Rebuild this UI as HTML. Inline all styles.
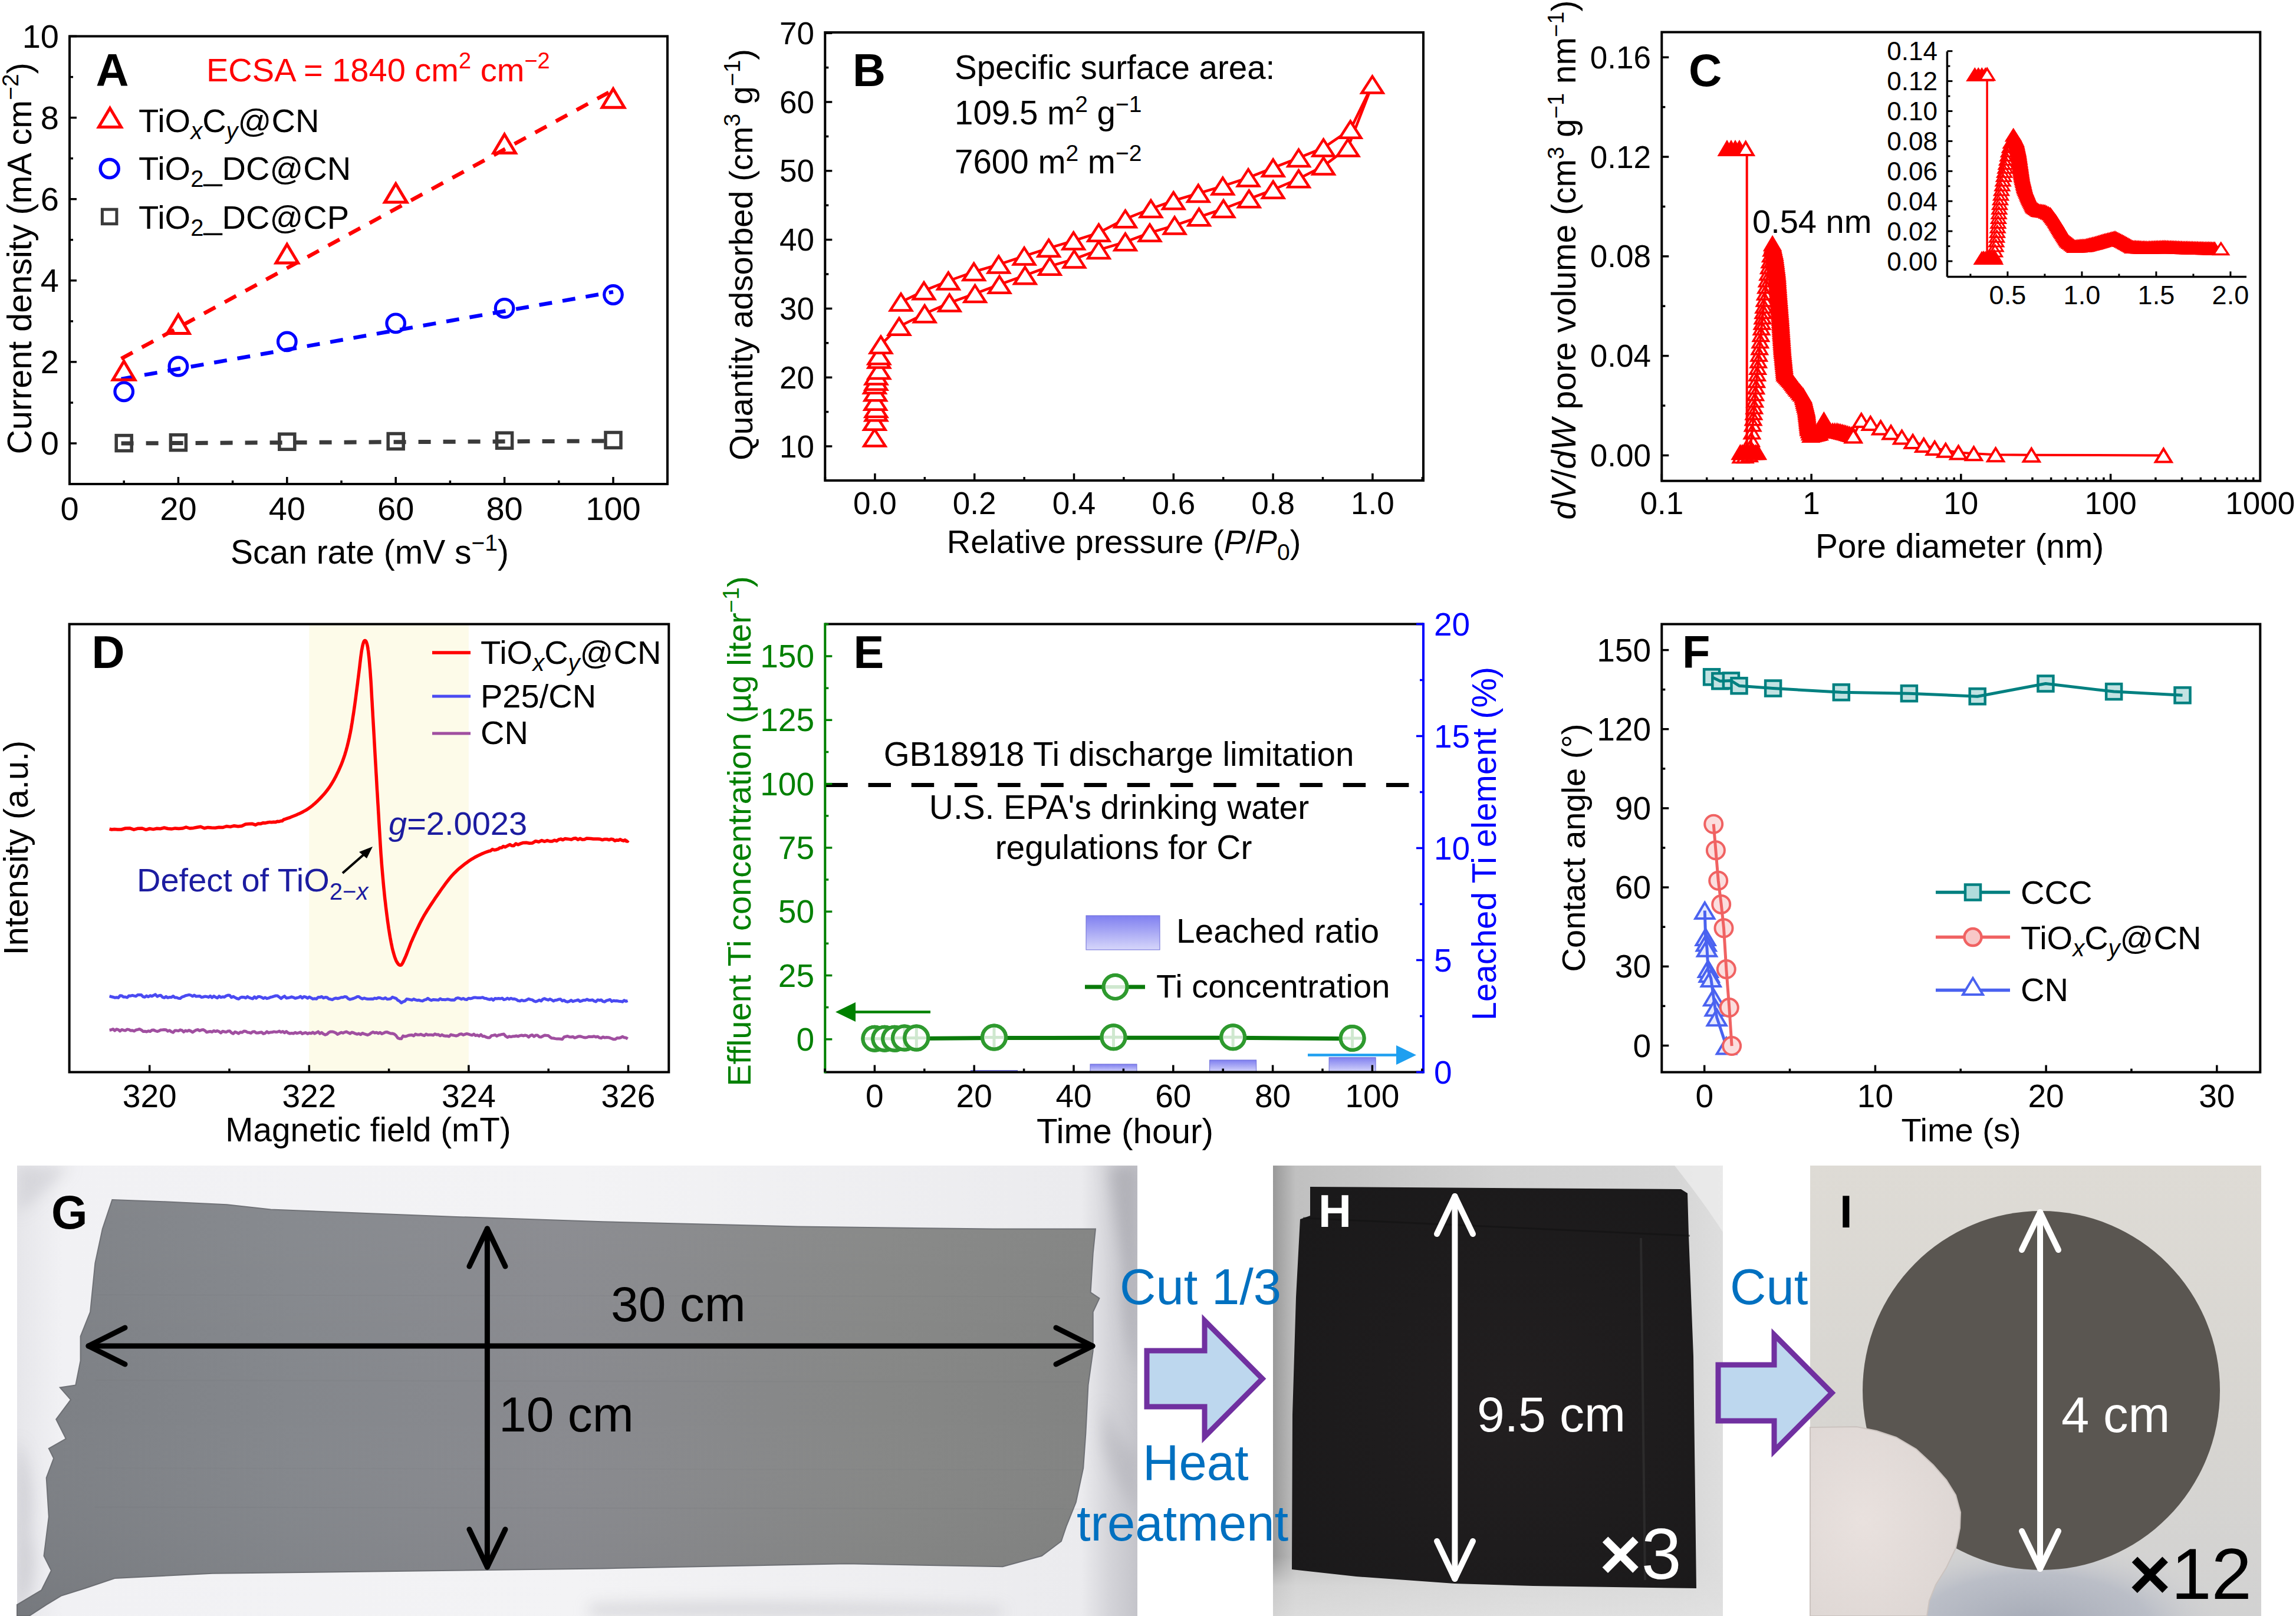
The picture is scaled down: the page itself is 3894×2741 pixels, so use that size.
<!DOCTYPE html><html><head><meta charset="utf-8"><style>html,body{margin:0;padding:0;background:#fff;}svg{display:block;}</style></head><body><svg width="3894" height="2741" viewBox="0 0 3894 2741" font-family="'Liberation Sans', Arial, sans-serif">
<rect width="3894" height="2741" fill="#fff"/>
<rect x="118" y="61.5" width="1014" height="759.5" fill="none" stroke="#000" stroke-width="4"/>
<line x1="118" y1="821" x2="118" y2="809" stroke="#000" stroke-width="3.5"/>
<line x1="302.4" y1="821" x2="302.4" y2="809" stroke="#000" stroke-width="3.5"/>
<line x1="486.8" y1="821" x2="486.8" y2="809" stroke="#000" stroke-width="3.5"/>
<line x1="671.2" y1="821" x2="671.2" y2="809" stroke="#000" stroke-width="3.5"/>
<line x1="855.6" y1="821" x2="855.6" y2="809" stroke="#000" stroke-width="3.5"/>
<line x1="1040" y1="821" x2="1040" y2="809" stroke="#000" stroke-width="3.5"/>
<line x1="210.2" y1="821" x2="210.2" y2="815" stroke="#000" stroke-width="3.5"/>
<line x1="394.6" y1="821" x2="394.6" y2="815" stroke="#000" stroke-width="3.5"/>
<line x1="579" y1="821" x2="579" y2="815" stroke="#000" stroke-width="3.5"/>
<line x1="763.4" y1="821" x2="763.4" y2="815" stroke="#000" stroke-width="3.5"/>
<line x1="947.8" y1="821" x2="947.8" y2="815" stroke="#000" stroke-width="3.5"/>
<line x1="1132.2" y1="821" x2="1132.2" y2="815" stroke="#000" stroke-width="3.5"/>
<line x1="118" y1="752" x2="130" y2="752" stroke="#000" stroke-width="3.5"/>
<line x1="118" y1="613.9" x2="130" y2="613.9" stroke="#000" stroke-width="3.5"/>
<line x1="118" y1="475.8" x2="130" y2="475.8" stroke="#000" stroke-width="3.5"/>
<line x1="118" y1="337.7" x2="130" y2="337.7" stroke="#000" stroke-width="3.5"/>
<line x1="118" y1="199.6" x2="130" y2="199.6" stroke="#000" stroke-width="3.5"/>
<line x1="118" y1="61.5" x2="130" y2="61.5" stroke="#000" stroke-width="3.5"/>
<line x1="118" y1="821" x2="124" y2="821" stroke="#000" stroke-width="3.5"/>
<line x1="118" y1="683" x2="124" y2="683" stroke="#000" stroke-width="3.5"/>
<line x1="118" y1="544.9" x2="124" y2="544.9" stroke="#000" stroke-width="3.5"/>
<line x1="118" y1="406.8" x2="124" y2="406.8" stroke="#000" stroke-width="3.5"/>
<line x1="118" y1="268.7" x2="124" y2="268.7" stroke="#000" stroke-width="3.5"/>
<line x1="118" y1="130.6" x2="124" y2="130.6" stroke="#000" stroke-width="3.5"/>
<text x="118" y="882" font-size="56" text-anchor="middle" fill="#000">0</text>
<text x="302.4" y="882" font-size="56" text-anchor="middle" fill="#000">20</text>
<text x="486.8" y="882" font-size="56" text-anchor="middle" fill="#000">40</text>
<text x="671.2" y="882" font-size="56" text-anchor="middle" fill="#000">60</text>
<text x="855.6" y="882" font-size="56" text-anchor="middle" fill="#000">80</text>
<text x="1040" y="882" font-size="56" text-anchor="middle" fill="#000">100</text>
<text x="100" y="771" font-size="56" text-anchor="end" fill="#000">0</text>
<text x="100" y="632.9" font-size="56" text-anchor="end" fill="#000">2</text>
<text x="100" y="494.8" font-size="56" text-anchor="end" fill="#000">4</text>
<text x="100" y="356.7" font-size="56" text-anchor="end" fill="#000">6</text>
<text x="100" y="218.6" font-size="56" text-anchor="end" fill="#000">8</text>
<text x="100" y="80.5" font-size="56" text-anchor="end" fill="#000">10</text>
<text x="627" y="955.5" font-size="57" text-anchor="middle" fill="#000">Scan rate (mV s<tspan dy="-22" font-size="39">−1</tspan><tspan dy="22">)</tspan></text>
<text x="0" y="0" font-size="57.5" text-anchor="middle" fill="#000" transform="translate(52.5,438.3) rotate(-90)">Current density (mA cm<tspan dy="-22" font-size="39">−2</tspan><tspan dy="22">)</tspan></text>
<text x="162.5" y="145.7" font-size="77.5" text-anchor="start" fill="#000" font-weight="bold">A</text>
<text x="350" y="138" font-size="56" text-anchor="start" fill="#ff0000">ECSA = 1840 cm<tspan dy="-22" font-size="38">2</tspan><tspan dy="22"> cm</tspan><tspan dy="-22" font-size="38">−2</tspan></text>
<polygon points="186.5,183.5 205.5,215.5 167.5,215.5" fill="none" stroke="#ff0000" stroke-width="5" stroke-linejoin="miter"/>
<circle cx="185.7" cy="286" r="15.5" fill="none" stroke="#0000ff" stroke-width="5.5"/>
<rect x="173.4" y="355.2" width="24.5" height="24.5" fill="none" stroke="#3a3a3a" stroke-width="5"/>
<text x="235" y="224" font-size="56" text-anchor="start" fill="#000">TiO<tspan dy="12" font-size="40" font-style="italic">x</tspan><tspan dy="-12">C</tspan><tspan dy="12" font-size="40" font-style="italic">y</tspan><tspan dy="-12">@CN</tspan></text>
<text x="235" y="305" font-size="56" text-anchor="start" fill="#000">TiO<tspan dy="12" font-size="40">2</tspan><tspan dy="-12">_DC@CN</tspan></text>
<text x="235" y="387.5" font-size="56" text-anchor="start" fill="#000">TiO<tspan dy="12" font-size="40">2</tspan><tspan dy="-12">_DC@CP</tspan></text>
<line x1="205.6" y1="608.4" x2="1040" y2="152.6" stroke="#ff0000" stroke-width="6.5" stroke-dasharray="22 18" stroke-linecap="butt"/>
<line x1="205.6" y1="642.9" x2="1040" y2="495.1" stroke="#0000ff" stroke-width="6.5" stroke-dasharray="22 18" stroke-linecap="butt"/>
<line x1="205.6" y1="752" x2="1040" y2="747.9" stroke="#3a3a3a" stroke-width="7" stroke-dasharray="21 21"/>
<polygon points="210.2,612.7 228.9,644.2 191.4,644.2" fill="none" stroke="#ff0000" stroke-width="5" stroke-linejoin="miter"/>
<polygon points="302.4,533.9 321.1,565.4 283.6,565.4" fill="none" stroke="#ff0000" stroke-width="5" stroke-linejoin="miter"/>
<polygon points="486.8,414.5 505.6,446 468.1,446" fill="none" stroke="#ff0000" stroke-width="5" stroke-linejoin="miter"/>
<polygon points="671.2,311.6 690,343.1 652.5,343.1" fill="none" stroke="#ff0000" stroke-width="5" stroke-linejoin="miter"/>
<polygon points="855.6,228 874.4,259.5 836.9,259.5" fill="none" stroke="#ff0000" stroke-width="5" stroke-linejoin="miter"/>
<polygon points="1040,150.7 1058.8,182.2 1021.2,182.2" fill="none" stroke="#ff0000" stroke-width="5" stroke-linejoin="miter"/>
<circle cx="210.2" cy="664.3" r="15.3" fill="none" stroke="#0000ff" stroke-width="5.2"/>
<circle cx="302.4" cy="621.5" r="15.3" fill="none" stroke="#0000ff" stroke-width="5.2"/>
<circle cx="486.8" cy="579.4" r="15.3" fill="none" stroke="#0000ff" stroke-width="5.2"/>
<circle cx="671.2" cy="548.3" r="15.3" fill="none" stroke="#0000ff" stroke-width="5.2"/>
<circle cx="855.6" cy="522.8" r="15.3" fill="none" stroke="#0000ff" stroke-width="5.2"/>
<circle cx="1040" cy="500" r="15.3" fill="none" stroke="#0000ff" stroke-width="5.2"/>
<rect x="197.2" y="738.6" width="26" height="26" fill="none" stroke="#3a3a3a" stroke-width="5.5"/>
<rect x="289.4" y="737.6" width="26" height="26" fill="none" stroke="#3a3a3a" stroke-width="5.5"/>
<rect x="473.8" y="736.2" width="26" height="26" fill="none" stroke="#3a3a3a" stroke-width="5.5"/>
<rect x="658.2" y="735.5" width="26" height="26" fill="none" stroke="#3a3a3a" stroke-width="5.5"/>
<rect x="842.6" y="734.2" width="26" height="26" fill="none" stroke="#3a3a3a" stroke-width="5.5"/>
<rect x="1027" y="733.5" width="26" height="26" fill="none" stroke="#3a3a3a" stroke-width="5.5"/>
<rect x="1399.3" y="55" width="1014.7" height="760" fill="none" stroke="#000" stroke-width="4"/>
<line x1="1483.9" y1="815" x2="1483.9" y2="803" stroke="#000" stroke-width="3.5"/>
<line x1="1652.7" y1="815" x2="1652.7" y2="803" stroke="#000" stroke-width="3.5"/>
<line x1="1821.5" y1="815" x2="1821.5" y2="803" stroke="#000" stroke-width="3.5"/>
<line x1="1990.3" y1="815" x2="1990.3" y2="803" stroke="#000" stroke-width="3.5"/>
<line x1="2159.1" y1="815" x2="2159.1" y2="803" stroke="#000" stroke-width="3.5"/>
<line x1="2327.9" y1="815" x2="2327.9" y2="803" stroke="#000" stroke-width="3.5"/>
<line x1="1399.5" y1="815" x2="1399.5" y2="809" stroke="#000" stroke-width="3.5"/>
<line x1="1568.3" y1="815" x2="1568.3" y2="809" stroke="#000" stroke-width="3.5"/>
<line x1="1737.1" y1="815" x2="1737.1" y2="809" stroke="#000" stroke-width="3.5"/>
<line x1="1905.9" y1="815" x2="1905.9" y2="809" stroke="#000" stroke-width="3.5"/>
<line x1="2074.7" y1="815" x2="2074.7" y2="809" stroke="#000" stroke-width="3.5"/>
<line x1="2243.5" y1="815" x2="2243.5" y2="809" stroke="#000" stroke-width="3.5"/>
<line x1="2412.3" y1="815" x2="2412.3" y2="809" stroke="#000" stroke-width="3.5"/>
<line x1="1399.3" y1="757" x2="1411.3" y2="757" stroke="#000" stroke-width="3.5"/>
<line x1="1399.3" y1="640.2" x2="1411.3" y2="640.2" stroke="#000" stroke-width="3.5"/>
<line x1="1399.3" y1="523.4" x2="1411.3" y2="523.4" stroke="#000" stroke-width="3.5"/>
<line x1="1399.3" y1="406.6" x2="1411.3" y2="406.6" stroke="#000" stroke-width="3.5"/>
<line x1="1399.3" y1="289.8" x2="1411.3" y2="289.8" stroke="#000" stroke-width="3.5"/>
<line x1="1399.3" y1="173" x2="1411.3" y2="173" stroke="#000" stroke-width="3.5"/>
<line x1="1399.3" y1="56.2" x2="1411.3" y2="56.2" stroke="#000" stroke-width="3.5"/>
<line x1="1399.3" y1="698.6" x2="1405.3" y2="698.6" stroke="#000" stroke-width="3.5"/>
<line x1="1399.3" y1="581.8" x2="1405.3" y2="581.8" stroke="#000" stroke-width="3.5"/>
<line x1="1399.3" y1="465" x2="1405.3" y2="465" stroke="#000" stroke-width="3.5"/>
<line x1="1399.3" y1="348.2" x2="1405.3" y2="348.2" stroke="#000" stroke-width="3.5"/>
<line x1="1399.3" y1="231.4" x2="1405.3" y2="231.4" stroke="#000" stroke-width="3.5"/>
<line x1="1399.3" y1="114.6" x2="1405.3" y2="114.6" stroke="#000" stroke-width="3.5"/>
<text x="1483.9" y="872" font-size="53" text-anchor="middle" fill="#000">0.0</text>
<text x="1652.7" y="872" font-size="53" text-anchor="middle" fill="#000">0.2</text>
<text x="1821.5" y="872" font-size="53" text-anchor="middle" fill="#000">0.4</text>
<text x="1990.3" y="872" font-size="53" text-anchor="middle" fill="#000">0.6</text>
<text x="2159.1" y="872" font-size="53" text-anchor="middle" fill="#000">0.8</text>
<text x="2327.9" y="872" font-size="53" text-anchor="middle" fill="#000">1.0</text>
<text x="1381" y="775.5" font-size="53" text-anchor="end" fill="#000">10</text>
<text x="1381" y="658.7" font-size="53" text-anchor="end" fill="#000">20</text>
<text x="1381" y="541.9" font-size="53" text-anchor="end" fill="#000">30</text>
<text x="1381" y="425.1" font-size="53" text-anchor="end" fill="#000">40</text>
<text x="1381" y="308.3" font-size="53" text-anchor="end" fill="#000">50</text>
<text x="1381" y="191.5" font-size="53" text-anchor="end" fill="#000">60</text>
<text x="1381" y="74.7" font-size="53" text-anchor="end" fill="#000">70</text>
<text x="1906" y="938" font-size="56" text-anchor="middle" fill="#000">Relative pressure (<tspan font-style="italic">P</tspan>/<tspan font-style="italic">P</tspan><tspan dy="12" font-size="39">0</tspan><tspan dy="-12">)</tspan></text>
<text x="0" y="0" font-size="56" text-anchor="middle" fill="#000" transform="translate(1276,432) rotate(-90)">Quantity adsorbed (cm<tspan dy="-21" font-size="39">3</tspan><tspan dy="21"> g</tspan><tspan dy="-21" font-size="39">−1</tspan><tspan dy="21">)</tspan></text>
<text x="1446" y="145.7" font-size="77.5" text-anchor="start" fill="#000" font-weight="bold">B</text>
<text x="1619" y="134" font-size="56.5" text-anchor="start" fill="#000">Specific surface area:</text>
<text x="1619" y="211" font-size="56.5" text-anchor="start" fill="#000">109.5 m<tspan dy="-21" font-size="39">2</tspan><tspan dy="21"> g</tspan><tspan dy="-21" font-size="39">−1</tspan></text>
<text x="1619" y="294" font-size="56.5" text-anchor="start" fill="#000">7600 m<tspan dy="-21" font-size="39">2</tspan><tspan dy="21"> m</tspan><tspan dy="-21" font-size="39">−2</tspan></text>
<polyline points="1483.4,742.6 1483.4,714.7 1485.9,699.3 1485.9,693.1 1484.7,680.7 1484.7,665.2 1483.4,652.8 1485.9,646.7 1485.9,637.4 1490.8,628.1 1490.8,609.5 1490.8,603.3 1493.9,584.8 1524.9,553.8 1568.2,532.2 1610.3,513.6 1653.6,498.1 1695,482.7 1738.4,467.2 1780.4,451.7 1821.9,439.4 1863.4,423.9 1908.5,410.3 1950,394.8 1992.1,382.4 2033.5,368.2 2075,354 2118.3,337.3 2159.2,321.8 2202.5,303.2 2244.6,281.6 2286,250.6 2327.5,143.6" fill="none" stroke="#ff0000" stroke-width="4.5" stroke-linejoin="round"/>
<polyline points="2327.5,143.6 2290.3,219.7 2244.6,250.6 2202.5,267.9 2159.2,284.7 2117.1,301.4 2073.8,315.6 2032.3,328 1990.2,340.3 1951.9,354 1908.5,371.3 1863.4,394.8 1820.7,408.4 1778.6,420.8 1737.1,434.4 1693.8,448.6 1651.7,461 1608.4,476.5 1567,493.2 1528,512.4" fill="none" stroke="#ff0000" stroke-width="4.5" stroke-linejoin="round"/>
<polygon points="1483.4,728.6 1501.4,756.6 1465.4,756.6" fill="#fff" stroke="#ff0000" stroke-width="4.5" stroke-linejoin="miter"/>
<polygon points="1483.4,700.7 1501.4,728.7 1465.4,728.7" fill="#fff" stroke="#ff0000" stroke-width="4.5" stroke-linejoin="miter"/>
<polygon points="1485.9,685.3 1503.9,713.3 1467.9,713.3" fill="#fff" stroke="#ff0000" stroke-width="4.5" stroke-linejoin="miter"/>
<polygon points="1485.9,679.1 1503.9,707.1 1467.9,707.1" fill="#fff" stroke="#ff0000" stroke-width="4.5" stroke-linejoin="miter"/>
<polygon points="1484.7,666.7 1502.7,694.7 1466.7,694.7" fill="#fff" stroke="#ff0000" stroke-width="4.5" stroke-linejoin="miter"/>
<polygon points="1484.7,651.2 1502.7,679.2 1466.7,679.2" fill="#fff" stroke="#ff0000" stroke-width="4.5" stroke-linejoin="miter"/>
<polygon points="1483.4,638.8 1501.4,666.8 1465.4,666.8" fill="#fff" stroke="#ff0000" stroke-width="4.5" stroke-linejoin="miter"/>
<polygon points="1485.9,632.7 1503.9,660.7 1467.9,660.7" fill="#fff" stroke="#ff0000" stroke-width="4.5" stroke-linejoin="miter"/>
<polygon points="1485.9,623.4 1503.9,651.4 1467.9,651.4" fill="#fff" stroke="#ff0000" stroke-width="4.5" stroke-linejoin="miter"/>
<polygon points="1490.8,614.1 1508.8,642.1 1472.8,642.1" fill="#fff" stroke="#ff0000" stroke-width="4.5" stroke-linejoin="miter"/>
<polygon points="1490.8,595.5 1508.8,623.5 1472.8,623.5" fill="#fff" stroke="#ff0000" stroke-width="4.5" stroke-linejoin="miter"/>
<polygon points="1490.8,589.3 1508.8,617.3 1472.8,617.3" fill="#fff" stroke="#ff0000" stroke-width="4.5" stroke-linejoin="miter"/>
<polygon points="1493.9,570.8 1511.9,598.8 1475.9,598.8" fill="#fff" stroke="#ff0000" stroke-width="4.5" stroke-linejoin="miter"/>
<polygon points="1524.9,539.8 1542.9,567.8 1506.9,567.8" fill="#fff" stroke="#ff0000" stroke-width="4.5" stroke-linejoin="miter"/>
<polygon points="1568.2,518.2 1586.2,546.2 1550.2,546.2" fill="#fff" stroke="#ff0000" stroke-width="4.5" stroke-linejoin="miter"/>
<polygon points="1610.3,499.6 1628.3,527.6 1592.3,527.6" fill="#fff" stroke="#ff0000" stroke-width="4.5" stroke-linejoin="miter"/>
<polygon points="1653.6,484.1 1671.6,512.1 1635.6,512.1" fill="#fff" stroke="#ff0000" stroke-width="4.5" stroke-linejoin="miter"/>
<polygon points="1695,468.7 1713,496.7 1677,496.7" fill="#fff" stroke="#ff0000" stroke-width="4.5" stroke-linejoin="miter"/>
<polygon points="1738.4,453.2 1756.4,481.2 1720.4,481.2" fill="#fff" stroke="#ff0000" stroke-width="4.5" stroke-linejoin="miter"/>
<polygon points="1780.4,437.7 1798.4,465.7 1762.4,465.7" fill="#fff" stroke="#ff0000" stroke-width="4.5" stroke-linejoin="miter"/>
<polygon points="1821.9,425.4 1839.9,453.4 1803.9,453.4" fill="#fff" stroke="#ff0000" stroke-width="4.5" stroke-linejoin="miter"/>
<polygon points="1863.4,409.9 1881.4,437.9 1845.4,437.9" fill="#fff" stroke="#ff0000" stroke-width="4.5" stroke-linejoin="miter"/>
<polygon points="1908.5,396.3 1926.5,424.3 1890.5,424.3" fill="#fff" stroke="#ff0000" stroke-width="4.5" stroke-linejoin="miter"/>
<polygon points="1950,380.8 1968,408.8 1932,408.8" fill="#fff" stroke="#ff0000" stroke-width="4.5" stroke-linejoin="miter"/>
<polygon points="1992.1,368.4 2010.1,396.4 1974.1,396.4" fill="#fff" stroke="#ff0000" stroke-width="4.5" stroke-linejoin="miter"/>
<polygon points="2033.5,354.2 2051.5,382.2 2015.5,382.2" fill="#fff" stroke="#ff0000" stroke-width="4.5" stroke-linejoin="miter"/>
<polygon points="2075,340 2093,368 2057,368" fill="#fff" stroke="#ff0000" stroke-width="4.5" stroke-linejoin="miter"/>
<polygon points="2118.3,323.3 2136.3,351.3 2100.3,351.3" fill="#fff" stroke="#ff0000" stroke-width="4.5" stroke-linejoin="miter"/>
<polygon points="2159.2,307.8 2177.2,335.8 2141.2,335.8" fill="#fff" stroke="#ff0000" stroke-width="4.5" stroke-linejoin="miter"/>
<polygon points="2202.5,289.2 2220.5,317.2 2184.5,317.2" fill="#fff" stroke="#ff0000" stroke-width="4.5" stroke-linejoin="miter"/>
<polygon points="2244.6,267.6 2262.6,295.6 2226.6,295.6" fill="#fff" stroke="#ff0000" stroke-width="4.5" stroke-linejoin="miter"/>
<polygon points="2286,236.6 2304,264.6 2268,264.6" fill="#fff" stroke="#ff0000" stroke-width="4.5" stroke-linejoin="miter"/>
<polygon points="2327.5,129.6 2345.5,157.6 2309.5,157.6" fill="#fff" stroke="#ff0000" stroke-width="4.5" stroke-linejoin="miter"/>
<polygon points="2290.3,205.7 2308.3,233.7 2272.3,233.7" fill="#fff" stroke="#ff0000" stroke-width="4.5" stroke-linejoin="miter"/>
<polygon points="2244.6,236.6 2262.6,264.6 2226.6,264.6" fill="#fff" stroke="#ff0000" stroke-width="4.5" stroke-linejoin="miter"/>
<polygon points="2202.5,253.9 2220.5,281.9 2184.5,281.9" fill="#fff" stroke="#ff0000" stroke-width="4.5" stroke-linejoin="miter"/>
<polygon points="2159.2,270.7 2177.2,298.7 2141.2,298.7" fill="#fff" stroke="#ff0000" stroke-width="4.5" stroke-linejoin="miter"/>
<polygon points="2117.1,287.4 2135.1,315.4 2099.1,315.4" fill="#fff" stroke="#ff0000" stroke-width="4.5" stroke-linejoin="miter"/>
<polygon points="2073.8,301.6 2091.8,329.6 2055.8,329.6" fill="#fff" stroke="#ff0000" stroke-width="4.5" stroke-linejoin="miter"/>
<polygon points="2032.3,314 2050.3,342 2014.3,342" fill="#fff" stroke="#ff0000" stroke-width="4.5" stroke-linejoin="miter"/>
<polygon points="1990.2,326.3 2008.2,354.3 1972.2,354.3" fill="#fff" stroke="#ff0000" stroke-width="4.5" stroke-linejoin="miter"/>
<polygon points="1951.9,340 1969.9,368 1933.9,368" fill="#fff" stroke="#ff0000" stroke-width="4.5" stroke-linejoin="miter"/>
<polygon points="1908.5,357.3 1926.5,385.3 1890.5,385.3" fill="#fff" stroke="#ff0000" stroke-width="4.5" stroke-linejoin="miter"/>
<polygon points="1863.4,380.8 1881.4,408.8 1845.4,408.8" fill="#fff" stroke="#ff0000" stroke-width="4.5" stroke-linejoin="miter"/>
<polygon points="1820.7,394.4 1838.7,422.4 1802.7,422.4" fill="#fff" stroke="#ff0000" stroke-width="4.5" stroke-linejoin="miter"/>
<polygon points="1778.6,406.8 1796.6,434.8 1760.6,434.8" fill="#fff" stroke="#ff0000" stroke-width="4.5" stroke-linejoin="miter"/>
<polygon points="1737.1,420.4 1755.1,448.4 1719.1,448.4" fill="#fff" stroke="#ff0000" stroke-width="4.5" stroke-linejoin="miter"/>
<polygon points="1693.8,434.6 1711.8,462.6 1675.8,462.6" fill="#fff" stroke="#ff0000" stroke-width="4.5" stroke-linejoin="miter"/>
<polygon points="1651.7,447 1669.7,475 1633.7,475" fill="#fff" stroke="#ff0000" stroke-width="4.5" stroke-linejoin="miter"/>
<polygon points="1608.4,462.5 1626.4,490.5 1590.4,490.5" fill="#fff" stroke="#ff0000" stroke-width="4.5" stroke-linejoin="miter"/>
<polygon points="1567,479.2 1585,507.2 1549,507.2" fill="#fff" stroke="#ff0000" stroke-width="4.5" stroke-linejoin="miter"/>
<polygon points="1528,498.4 1546,526.4 1510,526.4" fill="#fff" stroke="#ff0000" stroke-width="4.5" stroke-linejoin="miter"/>
<rect x="2818.3" y="54.5" width="1015" height="761.2" fill="none" stroke="#000" stroke-width="4"/>
<line x1="2818.3" y1="815.7" x2="2818.3" y2="803.7" stroke="#000" stroke-width="3.5"/>
<line x1="2894.7" y1="815.7" x2="2894.7" y2="809.7" stroke="#000" stroke-width="3.5"/>
<line x1="2939.4" y1="815.7" x2="2939.4" y2="809.7" stroke="#000" stroke-width="3.5"/>
<line x1="2971.1" y1="815.7" x2="2971.1" y2="809.7" stroke="#000" stroke-width="3.5"/>
<line x1="2995.7" y1="815.7" x2="2995.7" y2="809.7" stroke="#000" stroke-width="3.5"/>
<line x1="3015.8" y1="815.7" x2="3015.8" y2="809.7" stroke="#000" stroke-width="3.5"/>
<line x1="3032.7" y1="815.7" x2="3032.7" y2="809.7" stroke="#000" stroke-width="3.5"/>
<line x1="3047.5" y1="815.7" x2="3047.5" y2="809.7" stroke="#000" stroke-width="3.5"/>
<line x1="3060.4" y1="815.7" x2="3060.4" y2="809.7" stroke="#000" stroke-width="3.5"/>
<line x1="3072.1" y1="815.7" x2="3072.1" y2="803.7" stroke="#000" stroke-width="3.5"/>
<line x1="3148.4" y1="815.7" x2="3148.4" y2="809.7" stroke="#000" stroke-width="3.5"/>
<line x1="3193.1" y1="815.7" x2="3193.1" y2="809.7" stroke="#000" stroke-width="3.5"/>
<line x1="3224.8" y1="815.7" x2="3224.8" y2="809.7" stroke="#000" stroke-width="3.5"/>
<line x1="3249.4" y1="815.7" x2="3249.4" y2="809.7" stroke="#000" stroke-width="3.5"/>
<line x1="3269.5" y1="815.7" x2="3269.5" y2="809.7" stroke="#000" stroke-width="3.5"/>
<line x1="3286.5" y1="815.7" x2="3286.5" y2="809.7" stroke="#000" stroke-width="3.5"/>
<line x1="3301.2" y1="815.7" x2="3301.2" y2="809.7" stroke="#000" stroke-width="3.5"/>
<line x1="3314.2" y1="815.7" x2="3314.2" y2="809.7" stroke="#000" stroke-width="3.5"/>
<line x1="3325.8" y1="815.7" x2="3325.8" y2="803.7" stroke="#000" stroke-width="3.5"/>
<line x1="3402.2" y1="815.7" x2="3402.2" y2="809.7" stroke="#000" stroke-width="3.5"/>
<line x1="3446.9" y1="815.7" x2="3446.9" y2="809.7" stroke="#000" stroke-width="3.5"/>
<line x1="3478.6" y1="815.7" x2="3478.6" y2="809.7" stroke="#000" stroke-width="3.5"/>
<line x1="3503.2" y1="815.7" x2="3503.2" y2="809.7" stroke="#000" stroke-width="3.5"/>
<line x1="3523.3" y1="815.7" x2="3523.3" y2="809.7" stroke="#000" stroke-width="3.5"/>
<line x1="3540.2" y1="815.7" x2="3540.2" y2="809.7" stroke="#000" stroke-width="3.5"/>
<line x1="3555" y1="815.7" x2="3555" y2="809.7" stroke="#000" stroke-width="3.5"/>
<line x1="3567.9" y1="815.7" x2="3567.9" y2="809.7" stroke="#000" stroke-width="3.5"/>
<line x1="3579.6" y1="815.7" x2="3579.6" y2="803.7" stroke="#000" stroke-width="3.5"/>
<line x1="3655.9" y1="815.7" x2="3655.9" y2="809.7" stroke="#000" stroke-width="3.5"/>
<line x1="3700.6" y1="815.7" x2="3700.6" y2="809.7" stroke="#000" stroke-width="3.5"/>
<line x1="3732.3" y1="815.7" x2="3732.3" y2="809.7" stroke="#000" stroke-width="3.5"/>
<line x1="3756.9" y1="815.7" x2="3756.9" y2="809.7" stroke="#000" stroke-width="3.5"/>
<line x1="3777" y1="815.7" x2="3777" y2="809.7" stroke="#000" stroke-width="3.5"/>
<line x1="3794" y1="815.7" x2="3794" y2="809.7" stroke="#000" stroke-width="3.5"/>
<line x1="3808.7" y1="815.7" x2="3808.7" y2="809.7" stroke="#000" stroke-width="3.5"/>
<line x1="3821.7" y1="815.7" x2="3821.7" y2="809.7" stroke="#000" stroke-width="3.5"/>
<line x1="2818.3" y1="772.4" x2="2830.3" y2="772.4" stroke="#000" stroke-width="3.5"/>
<line x1="2818.3" y1="603.6" x2="2830.3" y2="603.6" stroke="#000" stroke-width="3.5"/>
<line x1="2818.3" y1="434.8" x2="2830.3" y2="434.8" stroke="#000" stroke-width="3.5"/>
<line x1="2818.3" y1="266" x2="2830.3" y2="266" stroke="#000" stroke-width="3.5"/>
<line x1="2818.3" y1="97.2" x2="2830.3" y2="97.2" stroke="#000" stroke-width="3.5"/>
<line x1="2818.3" y1="688" x2="2824.3" y2="688" stroke="#000" stroke-width="3.5"/>
<line x1="2818.3" y1="519.2" x2="2824.3" y2="519.2" stroke="#000" stroke-width="3.5"/>
<line x1="2818.3" y1="350.4" x2="2824.3" y2="350.4" stroke="#000" stroke-width="3.5"/>
<line x1="2818.3" y1="181.6" x2="2824.3" y2="181.6" stroke="#000" stroke-width="3.5"/>
<text x="2818.3" y="872" font-size="53" text-anchor="middle" fill="#000">0.1</text>
<text x="3072.1" y="872" font-size="53" text-anchor="middle" fill="#000">1</text>
<text x="3325.8" y="872" font-size="53" text-anchor="middle" fill="#000">10</text>
<text x="3579.6" y="872" font-size="53" text-anchor="middle" fill="#000">100</text>
<text x="3833.3" y="872" font-size="53" text-anchor="middle" fill="#000">1000</text>
<text x="2800" y="790.9" font-size="53" text-anchor="end" fill="#000">0.00</text>
<text x="2800" y="622.1" font-size="53" text-anchor="end" fill="#000">0.04</text>
<text x="2800" y="453.3" font-size="53" text-anchor="end" fill="#000">0.08</text>
<text x="2800" y="284.5" font-size="53" text-anchor="end" fill="#000">0.12</text>
<text x="2800" y="115.7" font-size="53" text-anchor="end" fill="#000">0.16</text>
<text x="3323.5" y="946" font-size="56.8" text-anchor="middle" fill="#000">Pore diameter (nm)</text>
<text x="0" y="0" font-size="57" text-anchor="middle" fill="#000" transform="translate(2672,441) rotate(-90)"><tspan font-style="italic">dV</tspan>/<tspan font-style="italic">dW</tspan> pore volume (cm<tspan dy="-20" font-size="38">3</tspan><tspan dy="20"> g</tspan><tspan dy="-20" font-size="38">−1</tspan><tspan dy="20"> nm</tspan><tspan dy="-20" font-size="38">−1</tspan><tspan dy="20">)</tspan></text>
<text x="2864" y="146.3" font-size="78" text-anchor="start" fill="#000" font-weight="bold">C</text>
<text x="2972" y="395" font-size="56" text-anchor="start" fill="#000">0.54 nm</text>
<line x1="2962.7" y1="252" x2="2962.7" y2="772.4" stroke="#ff0000" stroke-width="4"/>
<polyline points="2952.3,773.5 2959.7,773.5 2967.1,771.6 2970.1,745.7 2972.7,719.7 2975.3,690 2978.3,656.6 2981.2,623.2 2984.2,589.8 2987.5,556.3 2991.2,519.2 2995,485.8 2999.8,452.4 3004.2,422.7 3006.1,413.4 3006.1,413.4 3009.8,430.1 3013.5,459.8 3016.1,497 3019.1,534.1 3022.8,589.8 3027.3,634.3 3037.6,645.4 3048.8,660.3 3058.1,671.4 3063.6,693.7 3067.3,727.1 3071.1,738.2 3085.9,734.5 3093.3,712.2 3100.7,730.8 3115.6,730.8 3130.4,734.5 3143.4,738.2 3143.2,739.6 3156.8,713 3172.3,718 3189.6,725.4 3207,733.4 3225.5,741.5 3244.1,748.9 3262.7,755.1 3281.2,760 3299.8,763.8 3321.5,767.5 3347.5,769.3 3384.6,771.2 3445.3,771.8 3669.3,772.4" fill="none" stroke="#ff0000" stroke-width="4" stroke-linejoin="round"/>
<polygon points="2929,241 2942,263 2916,263" fill="#ff0000" stroke="#ff0000" stroke-width="4" stroke-linejoin="miter"/>
<polygon points="2936,241 2949,263 2923,263" fill="#ff0000" stroke="#ff0000" stroke-width="4" stroke-linejoin="miter"/>
<polygon points="2943,241 2956,263 2930,263" fill="#ff0000" stroke="#ff0000" stroke-width="4" stroke-linejoin="miter"/>
<polygon points="2950,241 2963,263 2937,263" fill="#ff0000" stroke="#ff0000" stroke-width="4" stroke-linejoin="miter"/>
<polygon points="2960.7,241 2973.7,263 2947.7,263" fill="#fff" stroke="#ff0000" stroke-width="4" stroke-linejoin="miter"/>
<polygon points="2952.3,762.5 2965.3,784.5 2939.3,784.5" fill="none" stroke="#ff0000" stroke-width="3.5" stroke-linejoin="miter"/>
<polygon points="2959.7,762.5 2972.7,784.5 2946.7,784.5" fill="none" stroke="#ff0000" stroke-width="3.5" stroke-linejoin="miter"/>
<polygon points="2967.1,760.6 2980.1,782.6 2954.1,782.6" fill="none" stroke="#ff0000" stroke-width="3.5" stroke-linejoin="miter"/>
<polygon points="2968.6,747.6 2981.6,769.6 2955.6,769.6" fill="none" stroke="#ff0000" stroke-width="3.5" stroke-linejoin="miter"/>
<polygon points="2970.1,734.7 2983.1,756.7 2957.1,756.7" fill="none" stroke="#ff0000" stroke-width="3.5" stroke-linejoin="miter"/>
<polygon points="2971.4,721.7 2984.4,743.7 2958.4,743.7" fill="none" stroke="#ff0000" stroke-width="3.5" stroke-linejoin="miter"/>
<polygon points="2972.7,708.7 2985.7,730.7 2959.7,730.7" fill="none" stroke="#ff0000" stroke-width="3.5" stroke-linejoin="miter"/>
<polygon points="2973.6,698.8 2986.6,720.8 2960.6,720.8" fill="none" stroke="#ff0000" stroke-width="3.5" stroke-linejoin="miter"/>
<polygon points="2974.4,688.9 2987.4,710.9 2961.4,710.9" fill="none" stroke="#ff0000" stroke-width="3.5" stroke-linejoin="miter"/>
<polygon points="2975.3,679 2988.3,701 2962.3,701" fill="none" stroke="#ff0000" stroke-width="3.5" stroke-linejoin="miter"/>
<polygon points="2976.3,667.8 2989.3,689.8 2963.3,689.8" fill="none" stroke="#ff0000" stroke-width="3.5" stroke-linejoin="miter"/>
<polygon points="2977.3,656.7 2990.3,678.7 2964.3,678.7" fill="none" stroke="#ff0000" stroke-width="3.5" stroke-linejoin="miter"/>
<polygon points="2978.3,645.6 2991.3,667.6 2965.3,667.6" fill="none" stroke="#ff0000" stroke-width="3.5" stroke-linejoin="miter"/>
<polygon points="2979.2,634.4 2992.2,656.4 2966.2,656.4" fill="none" stroke="#ff0000" stroke-width="3.5" stroke-linejoin="miter"/>
<polygon points="2980.2,623.3 2993.2,645.3 2967.2,645.3" fill="none" stroke="#ff0000" stroke-width="3.5" stroke-linejoin="miter"/>
<polygon points="2981.2,612.2 2994.2,634.2 2968.2,634.2" fill="none" stroke="#ff0000" stroke-width="3.5" stroke-linejoin="miter"/>
<polygon points="2982.2,601 2995.2,623 2969.2,623" fill="none" stroke="#ff0000" stroke-width="3.5" stroke-linejoin="miter"/>
<polygon points="2983.2,589.9 2996.2,611.9 2970.2,611.9" fill="none" stroke="#ff0000" stroke-width="3.5" stroke-linejoin="miter"/>
<polygon points="2984.2,578.8 2997.2,600.8 2971.2,600.8" fill="none" stroke="#ff0000" stroke-width="3.5" stroke-linejoin="miter"/>
<polygon points="2985.3,567.6 2998.3,589.6 2972.3,589.6" fill="none" stroke="#ff0000" stroke-width="3.5" stroke-linejoin="miter"/>
<polygon points="2986.4,556.5 2999.4,578.5 2973.4,578.5" fill="none" stroke="#ff0000" stroke-width="3.5" stroke-linejoin="miter"/>
<polygon points="2987.5,545.3 3000.5,567.3 2974.5,567.3" fill="none" stroke="#ff0000" stroke-width="3.5" stroke-linejoin="miter"/>
<polygon points="2988.5,536.1 3001.5,558.1 2975.5,558.1" fill="none" stroke="#ff0000" stroke-width="3.5" stroke-linejoin="miter"/>
<polygon points="2989.4,526.8 3002.4,548.8 2976.4,548.8" fill="none" stroke="#ff0000" stroke-width="3.5" stroke-linejoin="miter"/>
<polygon points="2990.3,517.5 3003.3,539.5 2977.3,539.5" fill="none" stroke="#ff0000" stroke-width="3.5" stroke-linejoin="miter"/>
<polygon points="2991.2,508.2 3004.2,530.2 2978.2,530.2" fill="none" stroke="#ff0000" stroke-width="3.5" stroke-linejoin="miter"/>
<polygon points="2992.5,497.1 3005.5,519.1 2979.5,519.1" fill="none" stroke="#ff0000" stroke-width="3.5" stroke-linejoin="miter"/>
<polygon points="2993.7,486 3006.7,508 2980.7,508" fill="none" stroke="#ff0000" stroke-width="3.5" stroke-linejoin="miter"/>
<polygon points="2995,474.8 3008,496.8 2982,496.8" fill="none" stroke="#ff0000" stroke-width="3.5" stroke-linejoin="miter"/>
<polygon points="2996.6,463.7 3009.6,485.7 2983.6,485.7" fill="none" stroke="#ff0000" stroke-width="3.5" stroke-linejoin="miter"/>
<polygon points="2998.2,452.5 3011.2,474.5 2985.2,474.5" fill="none" stroke="#ff0000" stroke-width="3.5" stroke-linejoin="miter"/>
<polygon points="2999.8,441.4 3012.8,463.4 2986.8,463.4" fill="none" stroke="#ff0000" stroke-width="3.5" stroke-linejoin="miter"/>
<polygon points="3001.3,431.5 3014.3,453.5 2988.3,453.5" fill="none" stroke="#ff0000" stroke-width="3.5" stroke-linejoin="miter"/>
<polygon points="3002.8,421.6 3015.8,443.6 2989.8,443.6" fill="none" stroke="#ff0000" stroke-width="3.5" stroke-linejoin="miter"/>
<polygon points="3004.2,411.7 3017.2,433.7 2991.2,433.7" fill="none" stroke="#ff0000" stroke-width="3.5" stroke-linejoin="miter"/>
<polygon points="3006.1,402.4 3019.1,424.4 2993.1,424.4" fill="none" stroke="#ff0000" stroke-width="3.5" stroke-linejoin="miter"/>
<polygon points="2951.4,756.5 2964.4,778.5 2938.4,778.5" fill="#ff0000" stroke="#ff0000" stroke-width="3.5" stroke-linejoin="miter"/>
<polygon points="2954.7,756.5 2967.7,778.5 2941.7,778.5" fill="#ff0000" stroke="#ff0000" stroke-width="3.5" stroke-linejoin="miter"/>
<polygon points="2958,756.5 2971,778.5 2945,778.5" fill="#ff0000" stroke="#ff0000" stroke-width="3.5" stroke-linejoin="miter"/>
<polygon points="2961.3,756.5 2974.3,778.5 2948.3,778.5" fill="#ff0000" stroke="#ff0000" stroke-width="3.5" stroke-linejoin="miter"/>
<polygon points="2964.6,756.5 2977.6,778.5 2951.6,778.5" fill="#ff0000" stroke="#ff0000" stroke-width="3.5" stroke-linejoin="miter"/>
<polygon points="2967.9,756.5 2980.9,778.5 2954.9,778.5" fill="#ff0000" stroke="#ff0000" stroke-width="3.5" stroke-linejoin="miter"/>
<polygon points="2971.2,756.5 2984.2,778.5 2958.2,778.5" fill="#ff0000" stroke="#ff0000" stroke-width="3.5" stroke-linejoin="miter"/>
<polygon points="2974.5,756.5 2987.5,778.5 2961.5,778.5" fill="#ff0000" stroke="#ff0000" stroke-width="3.5" stroke-linejoin="miter"/>
<polygon points="2977.8,756.5 2990.8,778.5 2964.8,778.5" fill="#ff0000" stroke="#ff0000" stroke-width="3.5" stroke-linejoin="miter"/>
<polygon points="2981.1,756.5 2994.1,778.5 2968.1,778.5" fill="#ff0000" stroke="#ff0000" stroke-width="3.5" stroke-linejoin="miter"/>
<polygon points="3006.1,402.4 3019.1,424.4 2993.1,424.4" fill="#ff0000" stroke="#ff0000" stroke-width="3.5" stroke-linejoin="miter"/>
<polygon points="3006.8,405.8 3019.8,427.8 2993.8,427.8" fill="#ff0000" stroke="#ff0000" stroke-width="3.5" stroke-linejoin="miter"/>
<polygon points="3007.6,409.1 3020.6,431.1 2994.6,431.1" fill="#ff0000" stroke="#ff0000" stroke-width="3.5" stroke-linejoin="miter"/>
<polygon points="3008.3,412.5 3021.3,434.5 2995.3,434.5" fill="#ff0000" stroke="#ff0000" stroke-width="3.5" stroke-linejoin="miter"/>
<polygon points="3009.1,415.8 3022.1,437.8 2996.1,437.8" fill="#ff0000" stroke="#ff0000" stroke-width="3.5" stroke-linejoin="miter"/>
<polygon points="3009.8,419.1 3022.8,441.1 2996.8,441.1" fill="#ff0000" stroke="#ff0000" stroke-width="3.5" stroke-linejoin="miter"/>
<polygon points="3010.2,422.4 3023.2,444.4 2997.2,444.4" fill="#ff0000" stroke="#ff0000" stroke-width="3.5" stroke-linejoin="miter"/>
<polygon points="3010.6,425.7 3023.6,447.7 2997.6,447.7" fill="#ff0000" stroke="#ff0000" stroke-width="3.5" stroke-linejoin="miter"/>
<polygon points="3011,429 3024,451 2998,451" fill="#ff0000" stroke="#ff0000" stroke-width="3.5" stroke-linejoin="miter"/>
<polygon points="3011.5,432.3 3024.5,454.3 2998.5,454.3" fill="#ff0000" stroke="#ff0000" stroke-width="3.5" stroke-linejoin="miter"/>
<polygon points="3011.9,435.6 3024.9,457.6 2998.9,457.6" fill="#ff0000" stroke="#ff0000" stroke-width="3.5" stroke-linejoin="miter"/>
<polygon points="3012.3,438.9 3025.3,460.9 2999.3,460.9" fill="#ff0000" stroke="#ff0000" stroke-width="3.5" stroke-linejoin="miter"/>
<polygon points="3012.7,442.2 3025.7,464.2 2999.7,464.2" fill="#ff0000" stroke="#ff0000" stroke-width="3.5" stroke-linejoin="miter"/>
<polygon points="3013.1,445.5 3026.1,467.5 3000.1,467.5" fill="#ff0000" stroke="#ff0000" stroke-width="3.5" stroke-linejoin="miter"/>
<polygon points="3013.5,448.8 3026.5,470.8 3000.5,470.8" fill="#ff0000" stroke="#ff0000" stroke-width="3.5" stroke-linejoin="miter"/>
<polygon points="3013.7,451.9 3026.7,473.9 3000.7,473.9" fill="#ff0000" stroke="#ff0000" stroke-width="3.5" stroke-linejoin="miter"/>
<polygon points="3014,455 3027,477 3001,477" fill="#ff0000" stroke="#ff0000" stroke-width="3.5" stroke-linejoin="miter"/>
<polygon points="3014.2,458.1 3027.2,480.1 3001.2,480.1" fill="#ff0000" stroke="#ff0000" stroke-width="3.5" stroke-linejoin="miter"/>
<polygon points="3014.4,461.2 3027.4,483.2 3001.4,483.2" fill="#ff0000" stroke="#ff0000" stroke-width="3.5" stroke-linejoin="miter"/>
<polygon points="3014.6,464.3 3027.6,486.3 3001.6,486.3" fill="#ff0000" stroke="#ff0000" stroke-width="3.5" stroke-linejoin="miter"/>
<polygon points="3014.8,467.4 3027.8,489.4 3001.8,489.4" fill="#ff0000" stroke="#ff0000" stroke-width="3.5" stroke-linejoin="miter"/>
<polygon points="3015,470.5 3028,492.5 3002,492.5" fill="#ff0000" stroke="#ff0000" stroke-width="3.5" stroke-linejoin="miter"/>
<polygon points="3015.3,473.6 3028.3,495.6 3002.3,495.6" fill="#ff0000" stroke="#ff0000" stroke-width="3.5" stroke-linejoin="miter"/>
<polygon points="3015.5,476.7 3028.5,498.7 3002.5,498.7" fill="#ff0000" stroke="#ff0000" stroke-width="3.5" stroke-linejoin="miter"/>
<polygon points="3015.7,479.8 3028.7,501.8 3002.7,501.8" fill="#ff0000" stroke="#ff0000" stroke-width="3.5" stroke-linejoin="miter"/>
<polygon points="3015.9,482.9 3028.9,504.9 3002.9,504.9" fill="#ff0000" stroke="#ff0000" stroke-width="3.5" stroke-linejoin="miter"/>
<polygon points="3016.1,486 3029.1,508 3003.1,508" fill="#ff0000" stroke="#ff0000" stroke-width="3.5" stroke-linejoin="miter"/>
<polygon points="3016.4,489 3029.4,511 3003.4,511" fill="#ff0000" stroke="#ff0000" stroke-width="3.5" stroke-linejoin="miter"/>
<polygon points="3016.6,492.1 3029.6,514.1 3003.6,514.1" fill="#ff0000" stroke="#ff0000" stroke-width="3.5" stroke-linejoin="miter"/>
<polygon points="3016.9,495.2 3029.9,517.2 3003.9,517.2" fill="#ff0000" stroke="#ff0000" stroke-width="3.5" stroke-linejoin="miter"/>
<polygon points="3017.1,498.3 3030.1,520.3 3004.1,520.3" fill="#ff0000" stroke="#ff0000" stroke-width="3.5" stroke-linejoin="miter"/>
<polygon points="3017.4,501.4 3030.4,523.4 3004.4,523.4" fill="#ff0000" stroke="#ff0000" stroke-width="3.5" stroke-linejoin="miter"/>
<polygon points="3017.6,504.5 3030.6,526.5 3004.6,526.5" fill="#ff0000" stroke="#ff0000" stroke-width="3.5" stroke-linejoin="miter"/>
<polygon points="3017.8,507.6 3030.8,529.6 3004.8,529.6" fill="#ff0000" stroke="#ff0000" stroke-width="3.5" stroke-linejoin="miter"/>
<polygon points="3018.1,510.7 3031.1,532.7 3005.1,532.7" fill="#ff0000" stroke="#ff0000" stroke-width="3.5" stroke-linejoin="miter"/>
<polygon points="3018.3,513.8 3031.3,535.8 3005.3,535.8" fill="#ff0000" stroke="#ff0000" stroke-width="3.5" stroke-linejoin="miter"/>
<polygon points="3018.6,516.9 3031.6,538.9 3005.6,538.9" fill="#ff0000" stroke="#ff0000" stroke-width="3.5" stroke-linejoin="miter"/>
<polygon points="3018.8,520 3031.8,542 3005.8,542" fill="#ff0000" stroke="#ff0000" stroke-width="3.5" stroke-linejoin="miter"/>
<polygon points="3019.1,523.1 3032.1,545.1 3006.1,545.1" fill="#ff0000" stroke="#ff0000" stroke-width="3.5" stroke-linejoin="miter"/>
<polygon points="3019.3,526.2 3032.3,548.2 3006.3,548.2" fill="#ff0000" stroke="#ff0000" stroke-width="3.5" stroke-linejoin="miter"/>
<polygon points="3019.5,529.3 3032.5,551.3 3006.5,551.3" fill="#ff0000" stroke="#ff0000" stroke-width="3.5" stroke-linejoin="miter"/>
<polygon points="3019.7,532.4 3032.7,554.4 3006.7,554.4" fill="#ff0000" stroke="#ff0000" stroke-width="3.5" stroke-linejoin="miter"/>
<polygon points="3019.9,535.4 3032.9,557.4 3006.9,557.4" fill="#ff0000" stroke="#ff0000" stroke-width="3.5" stroke-linejoin="miter"/>
<polygon points="3020.1,538.5 3033.1,560.5 3007.1,560.5" fill="#ff0000" stroke="#ff0000" stroke-width="3.5" stroke-linejoin="miter"/>
<polygon points="3020.3,541.6 3033.3,563.6 3007.3,563.6" fill="#ff0000" stroke="#ff0000" stroke-width="3.5" stroke-linejoin="miter"/>
<polygon points="3020.5,544.7 3033.5,566.7 3007.5,566.7" fill="#ff0000" stroke="#ff0000" stroke-width="3.5" stroke-linejoin="miter"/>
<polygon points="3020.7,547.8 3033.7,569.8 3007.7,569.8" fill="#ff0000" stroke="#ff0000" stroke-width="3.5" stroke-linejoin="miter"/>
<polygon points="3020.9,550.9 3033.9,572.9 3007.9,572.9" fill="#ff0000" stroke="#ff0000" stroke-width="3.5" stroke-linejoin="miter"/>
<polygon points="3021.1,554 3034.1,576 3008.1,576" fill="#ff0000" stroke="#ff0000" stroke-width="3.5" stroke-linejoin="miter"/>
<polygon points="3021.4,557.1 3034.4,579.1 3008.4,579.1" fill="#ff0000" stroke="#ff0000" stroke-width="3.5" stroke-linejoin="miter"/>
<polygon points="3021.6,560.2 3034.6,582.2 3008.6,582.2" fill="#ff0000" stroke="#ff0000" stroke-width="3.5" stroke-linejoin="miter"/>
<polygon points="3021.8,563.3 3034.8,585.3 3008.8,585.3" fill="#ff0000" stroke="#ff0000" stroke-width="3.5" stroke-linejoin="miter"/>
<polygon points="3022,566.4 3035,588.4 3009,588.4" fill="#ff0000" stroke="#ff0000" stroke-width="3.5" stroke-linejoin="miter"/>
<polygon points="3022.2,569.5 3035.2,591.5 3009.2,591.5" fill="#ff0000" stroke="#ff0000" stroke-width="3.5" stroke-linejoin="miter"/>
<polygon points="3022.4,572.6 3035.4,594.6 3009.4,594.6" fill="#ff0000" stroke="#ff0000" stroke-width="3.5" stroke-linejoin="miter"/>
<polygon points="3022.6,575.7 3035.6,597.7 3009.6,597.7" fill="#ff0000" stroke="#ff0000" stroke-width="3.5" stroke-linejoin="miter"/>
<polygon points="3022.8,578.8 3035.8,600.8 3009.8,600.8" fill="#ff0000" stroke="#ff0000" stroke-width="3.5" stroke-linejoin="miter"/>
<polygon points="3023.1,581.9 3036.1,603.9 3010.1,603.9" fill="#ff0000" stroke="#ff0000" stroke-width="3.5" stroke-linejoin="miter"/>
<polygon points="3023.4,585.1 3036.4,607.1 3010.4,607.1" fill="#ff0000" stroke="#ff0000" stroke-width="3.5" stroke-linejoin="miter"/>
<polygon points="3023.8,588.3 3036.8,610.3 3010.8,610.3" fill="#ff0000" stroke="#ff0000" stroke-width="3.5" stroke-linejoin="miter"/>
<polygon points="3024.1,591.5 3037.1,613.5 3011.1,613.5" fill="#ff0000" stroke="#ff0000" stroke-width="3.5" stroke-linejoin="miter"/>
<polygon points="3024.4,594.7 3037.4,616.7 3011.4,616.7" fill="#ff0000" stroke="#ff0000" stroke-width="3.5" stroke-linejoin="miter"/>
<polygon points="3024.7,597.8 3037.7,619.8 3011.7,619.8" fill="#ff0000" stroke="#ff0000" stroke-width="3.5" stroke-linejoin="miter"/>
<polygon points="3025,601 3038,623 3012,623" fill="#ff0000" stroke="#ff0000" stroke-width="3.5" stroke-linejoin="miter"/>
<polygon points="3025.3,604.2 3038.3,626.2 3012.3,626.2" fill="#ff0000" stroke="#ff0000" stroke-width="3.5" stroke-linejoin="miter"/>
<polygon points="3025.7,607.4 3038.7,629.4 3012.7,629.4" fill="#ff0000" stroke="#ff0000" stroke-width="3.5" stroke-linejoin="miter"/>
<polygon points="3026,610.6 3039,632.6 3013,632.6" fill="#ff0000" stroke="#ff0000" stroke-width="3.5" stroke-linejoin="miter"/>
<polygon points="3026.3,613.8 3039.3,635.8 3013.3,635.8" fill="#ff0000" stroke="#ff0000" stroke-width="3.5" stroke-linejoin="miter"/>
<polygon points="3026.6,616.9 3039.6,638.9 3013.6,638.9" fill="#ff0000" stroke="#ff0000" stroke-width="3.5" stroke-linejoin="miter"/>
<polygon points="3026.9,620.1 3039.9,642.1 3013.9,642.1" fill="#ff0000" stroke="#ff0000" stroke-width="3.5" stroke-linejoin="miter"/>
<polygon points="3027.3,623.3 3040.3,645.3 3014.3,645.3" fill="#ff0000" stroke="#ff0000" stroke-width="3.5" stroke-linejoin="miter"/>
<polygon points="3029.3,625.5 3042.3,647.5 3016.3,647.5" fill="#ff0000" stroke="#ff0000" stroke-width="3.5" stroke-linejoin="miter"/>
<polygon points="3031.4,627.8 3044.4,649.8 3018.4,649.8" fill="#ff0000" stroke="#ff0000" stroke-width="3.5" stroke-linejoin="miter"/>
<polygon points="3033.5,630 3046.5,652 3020.5,652" fill="#ff0000" stroke="#ff0000" stroke-width="3.5" stroke-linejoin="miter"/>
<polygon points="3035.6,632.2 3048.6,654.2 3022.6,654.2" fill="#ff0000" stroke="#ff0000" stroke-width="3.5" stroke-linejoin="miter"/>
<polygon points="3037.6,634.4 3050.6,656.4 3024.6,656.4" fill="#ff0000" stroke="#ff0000" stroke-width="3.5" stroke-linejoin="miter"/>
<polygon points="3039.5,636.9 3052.5,658.9 3026.5,658.9" fill="#ff0000" stroke="#ff0000" stroke-width="3.5" stroke-linejoin="miter"/>
<polygon points="3041.4,639.4 3054.4,661.4 3028.4,661.4" fill="#ff0000" stroke="#ff0000" stroke-width="3.5" stroke-linejoin="miter"/>
<polygon points="3043.2,641.9 3056.2,663.9 3030.2,663.9" fill="#ff0000" stroke="#ff0000" stroke-width="3.5" stroke-linejoin="miter"/>
<polygon points="3045.1,644.3 3058.1,666.3 3032.1,666.3" fill="#ff0000" stroke="#ff0000" stroke-width="3.5" stroke-linejoin="miter"/>
<polygon points="3046.9,646.8 3059.9,668.8 3033.9,668.8" fill="#ff0000" stroke="#ff0000" stroke-width="3.5" stroke-linejoin="miter"/>
<polygon points="3048.8,649.3 3061.8,671.3 3035.8,671.3" fill="#ff0000" stroke="#ff0000" stroke-width="3.5" stroke-linejoin="miter"/>
<polygon points="3051.1,652.1 3064.1,674.1 3038.1,674.1" fill="#ff0000" stroke="#ff0000" stroke-width="3.5" stroke-linejoin="miter"/>
<polygon points="3053.4,654.9 3066.4,676.9 3040.4,676.9" fill="#ff0000" stroke="#ff0000" stroke-width="3.5" stroke-linejoin="miter"/>
<polygon points="3055.7,657.6 3068.7,679.6 3042.7,679.6" fill="#ff0000" stroke="#ff0000" stroke-width="3.5" stroke-linejoin="miter"/>
<polygon points="3058.1,660.4 3071.1,682.4 3045.1,682.4" fill="#ff0000" stroke="#ff0000" stroke-width="3.5" stroke-linejoin="miter"/>
<polygon points="3058.9,663.6 3071.9,685.6 3045.9,685.6" fill="#ff0000" stroke="#ff0000" stroke-width="3.5" stroke-linejoin="miter"/>
<polygon points="3059.7,666.8 3072.7,688.8 3046.7,688.8" fill="#ff0000" stroke="#ff0000" stroke-width="3.5" stroke-linejoin="miter"/>
<polygon points="3060.4,670 3073.4,692 3047.4,692" fill="#ff0000" stroke="#ff0000" stroke-width="3.5" stroke-linejoin="miter"/>
<polygon points="3061.2,673.1 3074.2,695.1 3048.2,695.1" fill="#ff0000" stroke="#ff0000" stroke-width="3.5" stroke-linejoin="miter"/>
<polygon points="3062,676.3 3075,698.3 3049,698.3" fill="#ff0000" stroke="#ff0000" stroke-width="3.5" stroke-linejoin="miter"/>
<polygon points="3062.8,679.5 3075.8,701.5 3049.8,701.5" fill="#ff0000" stroke="#ff0000" stroke-width="3.5" stroke-linejoin="miter"/>
<polygon points="3063.6,682.7 3076.6,704.7 3050.6,704.7" fill="#ff0000" stroke="#ff0000" stroke-width="3.5" stroke-linejoin="miter"/>
<polygon points="3064,685.7 3077,707.7 3051,707.7" fill="#ff0000" stroke="#ff0000" stroke-width="3.5" stroke-linejoin="miter"/>
<polygon points="3064.3,688.8 3077.3,710.8 3051.3,710.8" fill="#ff0000" stroke="#ff0000" stroke-width="3.5" stroke-linejoin="miter"/>
<polygon points="3064.6,691.8 3077.6,713.8 3051.6,713.8" fill="#ff0000" stroke="#ff0000" stroke-width="3.5" stroke-linejoin="miter"/>
<polygon points="3065,694.8 3078,716.8 3052,716.8" fill="#ff0000" stroke="#ff0000" stroke-width="3.5" stroke-linejoin="miter"/>
<polygon points="3065.3,697.9 3078.3,719.9 3052.3,719.9" fill="#ff0000" stroke="#ff0000" stroke-width="3.5" stroke-linejoin="miter"/>
<polygon points="3065.7,700.9 3078.7,722.9 3052.7,722.9" fill="#ff0000" stroke="#ff0000" stroke-width="3.5" stroke-linejoin="miter"/>
<polygon points="3066,703.9 3079,725.9 3053,725.9" fill="#ff0000" stroke="#ff0000" stroke-width="3.5" stroke-linejoin="miter"/>
<polygon points="3066.3,707 3079.3,729 3053.3,729" fill="#ff0000" stroke="#ff0000" stroke-width="3.5" stroke-linejoin="miter"/>
<polygon points="3066.7,710 3079.7,732 3053.7,732" fill="#ff0000" stroke="#ff0000" stroke-width="3.5" stroke-linejoin="miter"/>
<polygon points="3067,713.1 3080,735.1 3054,735.1" fill="#ff0000" stroke="#ff0000" stroke-width="3.5" stroke-linejoin="miter"/>
<polygon points="3067.3,716.1 3080.3,738.1 3054.3,738.1" fill="#ff0000" stroke="#ff0000" stroke-width="3.5" stroke-linejoin="miter"/>
<polygon points="3068.6,719.8 3081.6,741.8 3055.6,741.8" fill="#ff0000" stroke="#ff0000" stroke-width="3.5" stroke-linejoin="miter"/>
<polygon points="3069.8,723.5 3082.8,745.5 3056.8,745.5" fill="#ff0000" stroke="#ff0000" stroke-width="3.5" stroke-linejoin="miter"/>
<polygon points="3071.1,727.2 3084.1,749.2 3058.1,749.2" fill="#ff0000" stroke="#ff0000" stroke-width="3.5" stroke-linejoin="miter"/>
<polygon points="3074,726.5 3087,748.5 3061,748.5" fill="#ff0000" stroke="#ff0000" stroke-width="3.5" stroke-linejoin="miter"/>
<polygon points="3077,725.7 3090,747.7 3064,747.7" fill="#ff0000" stroke="#ff0000" stroke-width="3.5" stroke-linejoin="miter"/>
<polygon points="3080,725 3093,747 3067,747" fill="#ff0000" stroke="#ff0000" stroke-width="3.5" stroke-linejoin="miter"/>
<polygon points="3082.9,724.3 3095.9,746.3 3069.9,746.3" fill="#ff0000" stroke="#ff0000" stroke-width="3.5" stroke-linejoin="miter"/>
<polygon points="3085.9,723.5 3098.9,745.5 3072.9,745.5" fill="#ff0000" stroke="#ff0000" stroke-width="3.5" stroke-linejoin="miter"/>
<polygon points="3087,720.3 3100,742.3 3074,742.3" fill="#ff0000" stroke="#ff0000" stroke-width="3.5" stroke-linejoin="miter"/>
<polygon points="3088,717.2 3101,739.2 3075,739.2" fill="#ff0000" stroke="#ff0000" stroke-width="3.5" stroke-linejoin="miter"/>
<polygon points="3089.1,714 3102.1,736 3076.1,736" fill="#ff0000" stroke="#ff0000" stroke-width="3.5" stroke-linejoin="miter"/>
<polygon points="3090.1,710.8 3103.1,732.8 3077.1,732.8" fill="#ff0000" stroke="#ff0000" stroke-width="3.5" stroke-linejoin="miter"/>
<polygon points="3091.2,707.6 3104.2,729.6 3078.2,729.6" fill="#ff0000" stroke="#ff0000" stroke-width="3.5" stroke-linejoin="miter"/>
<polygon points="3092.3,704.4 3105.3,726.4 3079.3,726.4" fill="#ff0000" stroke="#ff0000" stroke-width="3.5" stroke-linejoin="miter"/>
<polygon points="3093.3,701.2 3106.3,723.2 3080.3,723.2" fill="#ff0000" stroke="#ff0000" stroke-width="3.5" stroke-linejoin="miter"/>
<polygon points="3094.6,704.3 3107.6,726.3 3081.6,726.3" fill="#ff0000" stroke="#ff0000" stroke-width="3.5" stroke-linejoin="miter"/>
<polygon points="3095.8,707.4 3108.8,729.4 3082.8,729.4" fill="#ff0000" stroke="#ff0000" stroke-width="3.5" stroke-linejoin="miter"/>
<polygon points="3097,710.5 3110,732.5 3084,732.5" fill="#ff0000" stroke="#ff0000" stroke-width="3.5" stroke-linejoin="miter"/>
<polygon points="3098.3,713.6 3111.3,735.6 3085.3,735.6" fill="#ff0000" stroke="#ff0000" stroke-width="3.5" stroke-linejoin="miter"/>
<polygon points="3099.5,716.7 3112.5,738.7 3086.5,738.7" fill="#ff0000" stroke="#ff0000" stroke-width="3.5" stroke-linejoin="miter"/>
<polygon points="3100.7,719.8 3113.7,741.8 3087.7,741.8" fill="#ff0000" stroke="#ff0000" stroke-width="3.5" stroke-linejoin="miter"/>
<polygon points="3104.5,719.8 3117.5,741.8 3091.5,741.8" fill="#ff0000" stroke="#ff0000" stroke-width="3.5" stroke-linejoin="miter"/>
<polygon points="3108.2,719.8 3121.2,741.8 3095.2,741.8" fill="#ff0000" stroke="#ff0000" stroke-width="3.5" stroke-linejoin="miter"/>
<polygon points="3111.9,719.8 3124.9,741.8 3098.9,741.8" fill="#ff0000" stroke="#ff0000" stroke-width="3.5" stroke-linejoin="miter"/>
<polygon points="3115.6,719.8 3128.6,741.8 3102.6,741.8" fill="#ff0000" stroke="#ff0000" stroke-width="3.5" stroke-linejoin="miter"/>
<polygon points="3118.6,720.6 3131.6,742.6 3105.6,742.6" fill="#ff0000" stroke="#ff0000" stroke-width="3.5" stroke-linejoin="miter"/>
<polygon points="3121.5,721.3 3134.5,743.3 3108.5,743.3" fill="#ff0000" stroke="#ff0000" stroke-width="3.5" stroke-linejoin="miter"/>
<polygon points="3124.5,722 3137.5,744 3111.5,744" fill="#ff0000" stroke="#ff0000" stroke-width="3.5" stroke-linejoin="miter"/>
<polygon points="3127.5,722.8 3140.5,744.8 3114.5,744.8" fill="#ff0000" stroke="#ff0000" stroke-width="3.5" stroke-linejoin="miter"/>
<polygon points="3130.4,723.5 3143.4,745.5 3117.4,745.5" fill="#ff0000" stroke="#ff0000" stroke-width="3.5" stroke-linejoin="miter"/>
<polygon points="3133.7,724.4 3146.7,746.4 3120.7,746.4" fill="#ff0000" stroke="#ff0000" stroke-width="3.5" stroke-linejoin="miter"/>
<polygon points="3136.9,725.4 3149.9,747.4 3123.9,747.4" fill="#ff0000" stroke="#ff0000" stroke-width="3.5" stroke-linejoin="miter"/>
<polygon points="3140.2,726.3 3153.2,748.3 3127.2,748.3" fill="#ff0000" stroke="#ff0000" stroke-width="3.5" stroke-linejoin="miter"/>
<polygon points="3143.4,727.2 3156.4,749.2 3130.4,749.2" fill="#ff0000" stroke="#ff0000" stroke-width="3.5" stroke-linejoin="miter"/>
<polygon points="3143.2,728.6 3156.7,750.6 3129.7,750.6" fill="#fff" stroke="#ff0000" stroke-width="4" stroke-linejoin="miter"/>
<polygon points="3156.8,702 3170.3,724 3143.3,724" fill="#fff" stroke="#ff0000" stroke-width="4" stroke-linejoin="miter"/>
<polygon points="3172.3,707 3185.8,729 3158.8,729" fill="#fff" stroke="#ff0000" stroke-width="4" stroke-linejoin="miter"/>
<polygon points="3189.6,714.4 3203.1,736.4 3176.1,736.4" fill="#fff" stroke="#ff0000" stroke-width="4" stroke-linejoin="miter"/>
<polygon points="3207,722.4 3220.5,744.4 3193.5,744.4" fill="#fff" stroke="#ff0000" stroke-width="4" stroke-linejoin="miter"/>
<polygon points="3225.5,730.5 3239,752.5 3212,752.5" fill="#fff" stroke="#ff0000" stroke-width="4" stroke-linejoin="miter"/>
<polygon points="3244.1,737.9 3257.6,759.9 3230.6,759.9" fill="#fff" stroke="#ff0000" stroke-width="4" stroke-linejoin="miter"/>
<polygon points="3262.7,744.1 3276.2,766.1 3249.2,766.1" fill="#fff" stroke="#ff0000" stroke-width="4" stroke-linejoin="miter"/>
<polygon points="3281.2,749 3294.7,771 3267.7,771" fill="#fff" stroke="#ff0000" stroke-width="4" stroke-linejoin="miter"/>
<polygon points="3299.8,752.8 3313.3,774.8 3286.3,774.8" fill="#fff" stroke="#ff0000" stroke-width="4" stroke-linejoin="miter"/>
<polygon points="3321.5,756.5 3335,778.5 3308,778.5" fill="#fff" stroke="#ff0000" stroke-width="4" stroke-linejoin="miter"/>
<polygon points="3347.5,758.3 3361,780.3 3334,780.3" fill="#fff" stroke="#ff0000" stroke-width="4" stroke-linejoin="miter"/>
<polygon points="3384.6,760.2 3398.1,782.2 3371.1,782.2" fill="#fff" stroke="#ff0000" stroke-width="4" stroke-linejoin="miter"/>
<polygon points="3445.3,760.8 3458.8,782.8 3431.8,782.8" fill="#fff" stroke="#ff0000" stroke-width="4" stroke-linejoin="miter"/>
<polygon points="3669.3,761.4 3682.8,783.4 3655.8,783.4" fill="#fff" stroke="#ff0000" stroke-width="4" stroke-linejoin="miter"/>
<line x1="3302.4" y1="87.3" x2="3302.4" y2="469.4" stroke="#000" stroke-width="3.5"/>
<line x1="3302.4" y1="469.4" x2="3810" y2="469.4" stroke="#000" stroke-width="3.5"/>
<line x1="3302.4" y1="443" x2="3311.4" y2="443" stroke="#000" stroke-width="3"/>
<line x1="3302.4" y1="392.1" x2="3311.4" y2="392.1" stroke="#000" stroke-width="3"/>
<line x1="3302.4" y1="341.2" x2="3311.4" y2="341.2" stroke="#000" stroke-width="3"/>
<line x1="3302.4" y1="290.3" x2="3311.4" y2="290.3" stroke="#000" stroke-width="3"/>
<line x1="3302.4" y1="239.4" x2="3311.4" y2="239.4" stroke="#000" stroke-width="3"/>
<line x1="3302.4" y1="188.5" x2="3311.4" y2="188.5" stroke="#000" stroke-width="3"/>
<line x1="3302.4" y1="137.6" x2="3311.4" y2="137.6" stroke="#000" stroke-width="3"/>
<line x1="3302.4" y1="86.7" x2="3311.4" y2="86.7" stroke="#000" stroke-width="3"/>
<line x1="3302.4" y1="417.6" x2="3307.4" y2="417.6" stroke="#000" stroke-width="3"/>
<line x1="3302.4" y1="366.6" x2="3307.4" y2="366.6" stroke="#000" stroke-width="3"/>
<line x1="3302.4" y1="315.8" x2="3307.4" y2="315.8" stroke="#000" stroke-width="3"/>
<line x1="3302.4" y1="264.9" x2="3307.4" y2="264.9" stroke="#000" stroke-width="3"/>
<line x1="3302.4" y1="214" x2="3307.4" y2="214" stroke="#000" stroke-width="3"/>
<line x1="3302.4" y1="163.1" x2="3307.4" y2="163.1" stroke="#000" stroke-width="3"/>
<line x1="3302.4" y1="112.1" x2="3307.4" y2="112.1" stroke="#000" stroke-width="3"/>
<line x1="3404.9" y1="469.4" x2="3404.9" y2="460.4" stroke="#000" stroke-width="3"/>
<line x1="3530.9" y1="469.4" x2="3530.9" y2="460.4" stroke="#000" stroke-width="3"/>
<line x1="3656.9" y1="469.4" x2="3656.9" y2="460.4" stroke="#000" stroke-width="3"/>
<line x1="3782.9" y1="469.4" x2="3782.9" y2="460.4" stroke="#000" stroke-width="3"/>
<line x1="3341.9" y1="469.4" x2="3341.9" y2="464.4" stroke="#000" stroke-width="3"/>
<line x1="3467.9" y1="469.4" x2="3467.9" y2="464.4" stroke="#000" stroke-width="3"/>
<line x1="3593.9" y1="469.4" x2="3593.9" y2="464.4" stroke="#000" stroke-width="3"/>
<line x1="3719.9" y1="469.4" x2="3719.9" y2="464.4" stroke="#000" stroke-width="3"/>
<text x="3286" y="458.5" font-size="44" text-anchor="end" fill="#000">0.00</text>
<text x="3286" y="407.6" font-size="44" text-anchor="end" fill="#000">0.02</text>
<text x="3286" y="356.7" font-size="44" text-anchor="end" fill="#000">0.04</text>
<text x="3286" y="305.8" font-size="44" text-anchor="end" fill="#000">0.06</text>
<text x="3286" y="254.9" font-size="44" text-anchor="end" fill="#000">0.08</text>
<text x="3286" y="204" font-size="44" text-anchor="end" fill="#000">0.10</text>
<text x="3286" y="153.1" font-size="44" text-anchor="end" fill="#000">0.12</text>
<text x="3286" y="102.2" font-size="44" text-anchor="end" fill="#000">0.14</text>
<text x="3404.9" y="516" font-size="45" text-anchor="middle" fill="#000">0.5</text>
<text x="3530.9" y="516" font-size="45" text-anchor="middle" fill="#000">1.0</text>
<text x="3656.9" y="516" font-size="45" text-anchor="middle" fill="#000">1.5</text>
<text x="3782.9" y="516" font-size="45" text-anchor="middle" fill="#000">2.0</text>
<line x1="3370.1" y1="126.8" x2="3370.1" y2="432.8" stroke="#ff0000" stroke-width="3.5"/>
<polygon points="3349.3,117.3 3361.3,136.3 3337.3,136.3" fill="#ff0000" stroke="#ff0000" stroke-width="3.5" stroke-linejoin="miter"/>
<polygon points="3355.3,117.3 3367.3,136.3 3343.3,136.3" fill="#ff0000" stroke="#ff0000" stroke-width="3.5" stroke-linejoin="miter"/>
<polygon points="3361.2,117.3 3373.2,136.3 3349.2,136.3" fill="#ff0000" stroke="#ff0000" stroke-width="3.5" stroke-linejoin="miter"/>
<polygon points="3367.2,117.3 3379.2,136.3 3355.2,136.3" fill="#ff0000" stroke="#ff0000" stroke-width="3.5" stroke-linejoin="miter"/>
<polygon points="3370.1,116.5 3382.1,135.5 3358.1,135.5" fill="#fff" stroke="#ff0000" stroke-width="3.5" stroke-linejoin="miter"/>
<polygon points="3364.2,427.8 3376.2,446.8 3352.2,446.8" fill="none" stroke="#ff0000" stroke-width="3" stroke-linejoin="miter"/>
<polygon points="3373.1,427.8 3385.1,446.8 3361.1,446.8" fill="none" stroke="#ff0000" stroke-width="3" stroke-linejoin="miter"/>
<polygon points="3382,424.8 3394,443.8 3370,443.8" fill="none" stroke="#ff0000" stroke-width="3" stroke-linejoin="miter"/>
<polygon points="3383.5,415.9 3395.5,434.9 3371.5,434.9" fill="none" stroke="#ff0000" stroke-width="3" stroke-linejoin="miter"/>
<polygon points="3385,407 3397,426 3373,426" fill="none" stroke="#ff0000" stroke-width="3" stroke-linejoin="miter"/>
<polygon points="3385.8,399.1 3397.8,418.1 3373.8,418.1" fill="none" stroke="#ff0000" stroke-width="3" stroke-linejoin="miter"/>
<polygon points="3386.6,391.2 3398.6,410.2 3374.6,410.2" fill="none" stroke="#ff0000" stroke-width="3" stroke-linejoin="miter"/>
<polygon points="3387.4,383.2 3399.4,402.2 3375.4,402.2" fill="none" stroke="#ff0000" stroke-width="3" stroke-linejoin="miter"/>
<polygon points="3388.1,375.3 3400.1,394.3 3376.1,394.3" fill="none" stroke="#ff0000" stroke-width="3" stroke-linejoin="miter"/>
<polygon points="3388.8,367.4 3400.8,386.4 3376.8,386.4" fill="none" stroke="#ff0000" stroke-width="3" stroke-linejoin="miter"/>
<polygon points="3389.4,359.5 3401.4,378.5 3377.4,378.5" fill="none" stroke="#ff0000" stroke-width="3" stroke-linejoin="miter"/>
<polygon points="3390.1,351.5 3402.1,370.5 3378.1,370.5" fill="none" stroke="#ff0000" stroke-width="3" stroke-linejoin="miter"/>
<polygon points="3390.8,343.6 3402.8,362.6 3378.8,362.6" fill="none" stroke="#ff0000" stroke-width="3" stroke-linejoin="miter"/>
<polygon points="3391.5,335.7 3403.5,354.7 3379.5,354.7" fill="none" stroke="#ff0000" stroke-width="3" stroke-linejoin="miter"/>
<polygon points="3392.5,327.8 3404.5,346.8 3380.5,346.8" fill="none" stroke="#ff0000" stroke-width="3" stroke-linejoin="miter"/>
<polygon points="3393.5,319.9 3405.5,338.9 3381.5,338.9" fill="none" stroke="#ff0000" stroke-width="3" stroke-linejoin="miter"/>
<polygon points="3394.5,311.9 3406.5,330.9 3382.5,330.9" fill="none" stroke="#ff0000" stroke-width="3" stroke-linejoin="miter"/>
<polygon points="3395.8,304 3407.8,323 3383.8,323" fill="none" stroke="#ff0000" stroke-width="3" stroke-linejoin="miter"/>
<polygon points="3397.1,296.1 3409.1,315.1 3385.1,315.1" fill="none" stroke="#ff0000" stroke-width="3" stroke-linejoin="miter"/>
<polygon points="3398.4,288.2 3410.4,307.2 3386.4,307.2" fill="none" stroke="#ff0000" stroke-width="3" stroke-linejoin="miter"/>
<polygon points="3399.6,281.2 3411.6,300.2 3387.6,300.2" fill="none" stroke="#ff0000" stroke-width="3" stroke-linejoin="miter"/>
<polygon points="3400.9,274.3 3412.9,293.3 3388.9,293.3" fill="none" stroke="#ff0000" stroke-width="3" stroke-linejoin="miter"/>
<polygon points="3402.2,267.4 3414.2,286.4 3390.2,286.4" fill="none" stroke="#ff0000" stroke-width="3" stroke-linejoin="miter"/>
<polygon points="3403.6,260.4 3415.6,279.4 3391.6,279.4" fill="none" stroke="#ff0000" stroke-width="3" stroke-linejoin="miter"/>
<polygon points="3405,253.5 3417,272.5 3393,272.5" fill="none" stroke="#ff0000" stroke-width="3" stroke-linejoin="miter"/>
<polygon points="3406.4,246.6 3418.4,265.6 3394.4,265.6" fill="none" stroke="#ff0000" stroke-width="3" stroke-linejoin="miter"/>
<polygon points="3408.3,239.2 3420.3,258.2 3396.3,258.2" fill="none" stroke="#ff0000" stroke-width="3" stroke-linejoin="miter"/>
<polygon points="3410.2,231.7 3422.2,250.7 3398.2,250.7" fill="none" stroke="#ff0000" stroke-width="3" stroke-linejoin="miter"/>
<polygon points="3414.7,219.8 3426.7,238.8 3402.7,238.8" fill="none" stroke="#ff0000" stroke-width="3" stroke-linejoin="miter"/>
<polygon points="3361.2,428.4 3373.2,447.4 3349.2,447.4" fill="#ff0000" stroke="#ff0000" stroke-width="3" stroke-linejoin="miter"/>
<polygon points="3364.4,428.4 3376.4,447.4 3352.4,447.4" fill="#ff0000" stroke="#ff0000" stroke-width="3" stroke-linejoin="miter"/>
<polygon points="3367.6,428.4 3379.6,447.4 3355.6,447.4" fill="#ff0000" stroke="#ff0000" stroke-width="3" stroke-linejoin="miter"/>
<polygon points="3370.8,428.4 3382.8,447.4 3358.8,447.4" fill="#ff0000" stroke="#ff0000" stroke-width="3" stroke-linejoin="miter"/>
<polygon points="3374,428.4 3386,447.4 3362,447.4" fill="#ff0000" stroke="#ff0000" stroke-width="3" stroke-linejoin="miter"/>
<polygon points="3377.1,428.4 3389.1,447.4 3365.1,447.4" fill="#ff0000" stroke="#ff0000" stroke-width="3" stroke-linejoin="miter"/>
<polygon points="3380.3,428.4 3392.3,447.4 3368.3,447.4" fill="#ff0000" stroke="#ff0000" stroke-width="3" stroke-linejoin="miter"/>
<polygon points="3383.5,428.4 3395.5,447.4 3371.5,447.4" fill="#ff0000" stroke="#ff0000" stroke-width="3" stroke-linejoin="miter"/>
<polygon points="3414.7,219.8 3426.7,238.8 3402.7,238.8" fill="#ff0000" stroke="#ff0000" stroke-width="3" stroke-linejoin="miter"/>
<polygon points="3416.2,222.8 3428.2,241.8 3404.2,241.8" fill="#ff0000" stroke="#ff0000" stroke-width="3" stroke-linejoin="miter"/>
<polygon points="3417.7,225.8 3429.7,244.8 3405.7,244.8" fill="#ff0000" stroke="#ff0000" stroke-width="3" stroke-linejoin="miter"/>
<polygon points="3419.2,228.8 3431.2,247.8 3407.2,247.8" fill="#ff0000" stroke="#ff0000" stroke-width="3" stroke-linejoin="miter"/>
<polygon points="3419.7,231.3 3431.7,250.3 3407.7,250.3" fill="#ff0000" stroke="#ff0000" stroke-width="3" stroke-linejoin="miter"/>
<polygon points="3420.3,233.8 3432.3,252.8 3408.3,252.8" fill="#ff0000" stroke="#ff0000" stroke-width="3" stroke-linejoin="miter"/>
<polygon points="3420.8,236.4 3432.8,255.4 3408.8,255.4" fill="#ff0000" stroke="#ff0000" stroke-width="3" stroke-linejoin="miter"/>
<polygon points="3421.4,238.9 3433.4,257.9 3409.4,257.9" fill="#ff0000" stroke="#ff0000" stroke-width="3" stroke-linejoin="miter"/>
<polygon points="3421.9,241.5 3433.9,260.5 3409.9,260.5" fill="#ff0000" stroke="#ff0000" stroke-width="3" stroke-linejoin="miter"/>
<polygon points="3422.5,244 3434.5,263 3410.5,263" fill="#ff0000" stroke="#ff0000" stroke-width="3" stroke-linejoin="miter"/>
<polygon points="3423,246.6 3435,265.6 3411,265.6" fill="#ff0000" stroke="#ff0000" stroke-width="3" stroke-linejoin="miter"/>
<polygon points="3423.4,249.2 3435.4,268.2 3411.4,268.2" fill="#ff0000" stroke="#ff0000" stroke-width="3" stroke-linejoin="miter"/>
<polygon points="3423.8,251.8 3435.8,270.8 3411.8,270.8" fill="#ff0000" stroke="#ff0000" stroke-width="3" stroke-linejoin="miter"/>
<polygon points="3424.1,254.4 3436.1,273.4 3412.1,273.4" fill="#ff0000" stroke="#ff0000" stroke-width="3" stroke-linejoin="miter"/>
<polygon points="3424.5,257 3436.5,276 3412.5,276" fill="#ff0000" stroke="#ff0000" stroke-width="3" stroke-linejoin="miter"/>
<polygon points="3424.9,259.6 3436.9,278.6 3412.9,278.6" fill="#ff0000" stroke="#ff0000" stroke-width="3" stroke-linejoin="miter"/>
<polygon points="3425.2,262.2 3437.2,281.2 3413.2,281.2" fill="#ff0000" stroke="#ff0000" stroke-width="3" stroke-linejoin="miter"/>
<polygon points="3425.6,264.8 3437.6,283.8 3413.6,283.8" fill="#ff0000" stroke="#ff0000" stroke-width="3" stroke-linejoin="miter"/>
<polygon points="3426,267.4 3438,286.4 3414,286.4" fill="#ff0000" stroke="#ff0000" stroke-width="3" stroke-linejoin="miter"/>
<polygon points="3426.4,270 3438.4,289 3414.4,289" fill="#ff0000" stroke="#ff0000" stroke-width="3" stroke-linejoin="miter"/>
<polygon points="3426.7,272.6 3438.7,291.6 3414.7,291.6" fill="#ff0000" stroke="#ff0000" stroke-width="3" stroke-linejoin="miter"/>
<polygon points="3427.1,275.2 3439.1,294.2 3415.1,294.2" fill="#ff0000" stroke="#ff0000" stroke-width="3" stroke-linejoin="miter"/>
<polygon points="3427.5,277.8 3439.5,296.8 3415.5,296.8" fill="#ff0000" stroke="#ff0000" stroke-width="3" stroke-linejoin="miter"/>
<polygon points="3427.8,280.4 3439.8,299.4 3415.8,299.4" fill="#ff0000" stroke="#ff0000" stroke-width="3" stroke-linejoin="miter"/>
<polygon points="3428.2,283 3440.2,302 3416.2,302" fill="#ff0000" stroke="#ff0000" stroke-width="3" stroke-linejoin="miter"/>
<polygon points="3428.6,285.6 3440.6,304.6 3416.6,304.6" fill="#ff0000" stroke="#ff0000" stroke-width="3" stroke-linejoin="miter"/>
<polygon points="3429,288.2 3441,307.2 3417,307.2" fill="#ff0000" stroke="#ff0000" stroke-width="3" stroke-linejoin="miter"/>
<polygon points="3429.6,290.8 3441.6,309.8 3417.6,309.8" fill="#ff0000" stroke="#ff0000" stroke-width="3" stroke-linejoin="miter"/>
<polygon points="3430.2,293.4 3442.2,312.4 3418.2,312.4" fill="#ff0000" stroke="#ff0000" stroke-width="3" stroke-linejoin="miter"/>
<polygon points="3430.9,296 3442.9,315 3418.9,315" fill="#ff0000" stroke="#ff0000" stroke-width="3" stroke-linejoin="miter"/>
<polygon points="3431.5,298.6 3443.5,317.6 3419.5,317.6" fill="#ff0000" stroke="#ff0000" stroke-width="3" stroke-linejoin="miter"/>
<polygon points="3432.1,301.2 3444.1,320.2 3420.1,320.2" fill="#ff0000" stroke="#ff0000" stroke-width="3" stroke-linejoin="miter"/>
<polygon points="3432.7,303.8 3444.7,322.8 3420.7,322.8" fill="#ff0000" stroke="#ff0000" stroke-width="3" stroke-linejoin="miter"/>
<polygon points="3433.4,306.4 3445.4,325.4 3421.4,325.4" fill="#ff0000" stroke="#ff0000" stroke-width="3" stroke-linejoin="miter"/>
<polygon points="3434,309 3446,328 3422,328" fill="#ff0000" stroke="#ff0000" stroke-width="3" stroke-linejoin="miter"/>
<polygon points="3435.1,311.5 3447.1,330.5 3423.1,330.5" fill="#ff0000" stroke="#ff0000" stroke-width="3" stroke-linejoin="miter"/>
<polygon points="3436.1,314.1 3448.1,333.1 3424.1,333.1" fill="#ff0000" stroke="#ff0000" stroke-width="3" stroke-linejoin="miter"/>
<polygon points="3437.2,316.6 3449.2,335.6 3425.2,335.6" fill="#ff0000" stroke="#ff0000" stroke-width="3" stroke-linejoin="miter"/>
<polygon points="3438.3,319.2 3450.3,338.2 3426.3,338.2" fill="#ff0000" stroke="#ff0000" stroke-width="3" stroke-linejoin="miter"/>
<polygon points="3439.3,321.7 3451.3,340.7 3427.3,340.7" fill="#ff0000" stroke="#ff0000" stroke-width="3" stroke-linejoin="miter"/>
<polygon points="3440.4,324.2 3452.4,343.2 3428.4,343.2" fill="#ff0000" stroke="#ff0000" stroke-width="3" stroke-linejoin="miter"/>
<polygon points="3441.4,326.8 3453.4,345.8 3429.4,345.8" fill="#ff0000" stroke="#ff0000" stroke-width="3" stroke-linejoin="miter"/>
<polygon points="3442.7,329.3 3454.7,348.3 3430.7,348.3" fill="#ff0000" stroke="#ff0000" stroke-width="3" stroke-linejoin="miter"/>
<polygon points="3443.9,331.7 3455.9,350.7 3431.9,350.7" fill="#ff0000" stroke="#ff0000" stroke-width="3" stroke-linejoin="miter"/>
<polygon points="3445.2,334.2 3457.2,353.2 3433.2,353.2" fill="#ff0000" stroke="#ff0000" stroke-width="3" stroke-linejoin="miter"/>
<polygon points="3446.4,336.7 3458.4,355.7 3434.4,355.7" fill="#ff0000" stroke="#ff0000" stroke-width="3" stroke-linejoin="miter"/>
<polygon points="3447.6,339.2 3459.6,358.2 3435.6,358.2" fill="#ff0000" stroke="#ff0000" stroke-width="3" stroke-linejoin="miter"/>
<polygon points="3448.9,341.6 3460.9,360.6 3436.9,360.6" fill="#ff0000" stroke="#ff0000" stroke-width="3" stroke-linejoin="miter"/>
<polygon points="3451.1,343.1 3463.1,362.1 3439.1,362.1" fill="#ff0000" stroke="#ff0000" stroke-width="3" stroke-linejoin="miter"/>
<polygon points="3453.3,344.6 3465.3,363.6 3441.3,363.6" fill="#ff0000" stroke="#ff0000" stroke-width="3" stroke-linejoin="miter"/>
<polygon points="3455.5,346.1 3467.5,365.1 3443.5,365.1" fill="#ff0000" stroke="#ff0000" stroke-width="3" stroke-linejoin="miter"/>
<polygon points="3457.8,347.6 3469.8,366.6 3445.8,366.6" fill="#ff0000" stroke="#ff0000" stroke-width="3" stroke-linejoin="miter"/>
<polygon points="3460.4,348 3472.4,367 3448.4,367" fill="#ff0000" stroke="#ff0000" stroke-width="3" stroke-linejoin="miter"/>
<polygon points="3463,348.3 3475,367.3 3451,367.3" fill="#ff0000" stroke="#ff0000" stroke-width="3" stroke-linejoin="miter"/>
<polygon points="3465.6,348.7 3477.6,367.7 3453.6,367.7" fill="#ff0000" stroke="#ff0000" stroke-width="3" stroke-linejoin="miter"/>
<polygon points="3468.2,349.1 3480.2,368.1 3456.2,368.1" fill="#ff0000" stroke="#ff0000" stroke-width="3" stroke-linejoin="miter"/>
<polygon points="3471.1,350.6 3483.1,369.6 3459.1,369.6" fill="#ff0000" stroke="#ff0000" stroke-width="3" stroke-linejoin="miter"/>
<polygon points="3474.1,352 3486.1,371 3462.1,371" fill="#ff0000" stroke="#ff0000" stroke-width="3" stroke-linejoin="miter"/>
<polygon points="3477.1,353.5 3489.1,372.5 3465.1,372.5" fill="#ff0000" stroke="#ff0000" stroke-width="3" stroke-linejoin="miter"/>
<polygon points="3478.9,355.9 3490.9,374.9 3466.9,374.9" fill="#ff0000" stroke="#ff0000" stroke-width="3" stroke-linejoin="miter"/>
<polygon points="3480.7,358.3 3492.7,377.3 3468.7,377.3" fill="#ff0000" stroke="#ff0000" stroke-width="3" stroke-linejoin="miter"/>
<polygon points="3482.4,360.7 3494.4,379.7 3470.4,379.7" fill="#ff0000" stroke="#ff0000" stroke-width="3" stroke-linejoin="miter"/>
<polygon points="3484.2,363 3496.2,382 3472.2,382" fill="#ff0000" stroke="#ff0000" stroke-width="3" stroke-linejoin="miter"/>
<polygon points="3486,365.4 3498,384.4 3474,384.4" fill="#ff0000" stroke="#ff0000" stroke-width="3" stroke-linejoin="miter"/>
<polygon points="3487.3,367.6 3499.3,386.6 3475.3,386.6" fill="#ff0000" stroke="#ff0000" stroke-width="3" stroke-linejoin="miter"/>
<polygon points="3488.6,369.9 3500.6,388.9 3476.6,388.9" fill="#ff0000" stroke="#ff0000" stroke-width="3" stroke-linejoin="miter"/>
<polygon points="3489.9,372.1 3501.9,391.1 3477.9,391.1" fill="#ff0000" stroke="#ff0000" stroke-width="3" stroke-linejoin="miter"/>
<polygon points="3491.2,374.3 3503.2,393.3 3479.2,393.3" fill="#ff0000" stroke="#ff0000" stroke-width="3" stroke-linejoin="miter"/>
<polygon points="3492.5,376.6 3504.5,395.6 3480.5,395.6" fill="#ff0000" stroke="#ff0000" stroke-width="3" stroke-linejoin="miter"/>
<polygon points="3493.8,378.8 3505.8,397.8 3481.8,397.8" fill="#ff0000" stroke="#ff0000" stroke-width="3" stroke-linejoin="miter"/>
<polygon points="3495.1,381 3507.1,400 3483.1,400" fill="#ff0000" stroke="#ff0000" stroke-width="3" stroke-linejoin="miter"/>
<polygon points="3496.4,383.2 3508.4,402.2 3484.4,402.2" fill="#ff0000" stroke="#ff0000" stroke-width="3" stroke-linejoin="miter"/>
<polygon points="3497.9,385.6 3509.9,404.6 3485.9,404.6" fill="#ff0000" stroke="#ff0000" stroke-width="3" stroke-linejoin="miter"/>
<polygon points="3499.4,387.9 3511.4,406.9 3487.4,406.9" fill="#ff0000" stroke="#ff0000" stroke-width="3" stroke-linejoin="miter"/>
<polygon points="3500.9,390.2 3512.9,409.2 3488.9,409.2" fill="#ff0000" stroke="#ff0000" stroke-width="3" stroke-linejoin="miter"/>
<polygon points="3502.3,392.6 3514.3,411.6 3490.3,411.6" fill="#ff0000" stroke="#ff0000" stroke-width="3" stroke-linejoin="miter"/>
<polygon points="3503.8,394.9 3515.8,413.9 3491.8,413.9" fill="#ff0000" stroke="#ff0000" stroke-width="3" stroke-linejoin="miter"/>
<polygon points="3505.3,397.2 3517.3,416.2 3493.3,416.2" fill="#ff0000" stroke="#ff0000" stroke-width="3" stroke-linejoin="miter"/>
<polygon points="3506.8,399.6 3518.8,418.6 3494.8,418.6" fill="#ff0000" stroke="#ff0000" stroke-width="3" stroke-linejoin="miter"/>
<polygon points="3509.2,401.4 3521.2,420.4 3497.2,420.4" fill="#ff0000" stroke="#ff0000" stroke-width="3" stroke-linejoin="miter"/>
<polygon points="3511.6,403.1 3523.6,422.1 3499.6,422.1" fill="#ff0000" stroke="#ff0000" stroke-width="3" stroke-linejoin="miter"/>
<polygon points="3513.9,404.9 3525.9,423.9 3501.9,423.9" fill="#ff0000" stroke="#ff0000" stroke-width="3" stroke-linejoin="miter"/>
<polygon points="3516.3,406.7 3528.3,425.7 3504.3,425.7" fill="#ff0000" stroke="#ff0000" stroke-width="3" stroke-linejoin="miter"/>
<polygon points="3518.7,408.5 3530.7,427.5 3506.7,427.5" fill="#ff0000" stroke="#ff0000" stroke-width="3" stroke-linejoin="miter"/>
<polygon points="3521.2,408.3 3533.2,427.3 3509.2,427.3" fill="#ff0000" stroke="#ff0000" stroke-width="3" stroke-linejoin="miter"/>
<polygon points="3523.8,408.1 3535.8,427.1 3511.8,427.1" fill="#ff0000" stroke="#ff0000" stroke-width="3" stroke-linejoin="miter"/>
<polygon points="3526.3,407.9 3538.3,426.9 3514.3,426.9" fill="#ff0000" stroke="#ff0000" stroke-width="3" stroke-linejoin="miter"/>
<polygon points="3528.9,407.6 3540.9,426.6 3516.9,426.6" fill="#ff0000" stroke="#ff0000" stroke-width="3" stroke-linejoin="miter"/>
<polygon points="3531.4,407.4 3543.4,426.4 3519.4,426.4" fill="#ff0000" stroke="#ff0000" stroke-width="3" stroke-linejoin="miter"/>
<polygon points="3534,407.2 3546,426.2 3522,426.2" fill="#ff0000" stroke="#ff0000" stroke-width="3" stroke-linejoin="miter"/>
<polygon points="3536.5,407 3548.5,426 3524.5,426" fill="#ff0000" stroke="#ff0000" stroke-width="3" stroke-linejoin="miter"/>
<polygon points="3539.1,406.4 3551.1,425.4 3527.1,425.4" fill="#ff0000" stroke="#ff0000" stroke-width="3" stroke-linejoin="miter"/>
<polygon points="3541.6,405.7 3553.6,424.7 3529.6,424.7" fill="#ff0000" stroke="#ff0000" stroke-width="3" stroke-linejoin="miter"/>
<polygon points="3544.1,405.1 3556.1,424.1 3532.1,424.1" fill="#ff0000" stroke="#ff0000" stroke-width="3" stroke-linejoin="miter"/>
<polygon points="3546.7,404.5 3558.7,423.5 3534.7,423.5" fill="#ff0000" stroke="#ff0000" stroke-width="3" stroke-linejoin="miter"/>
<polygon points="3549.2,403.8 3561.2,422.8 3537.2,422.8" fill="#ff0000" stroke="#ff0000" stroke-width="3" stroke-linejoin="miter"/>
<polygon points="3551.8,403.2 3563.8,422.2 3539.8,422.2" fill="#ff0000" stroke="#ff0000" stroke-width="3" stroke-linejoin="miter"/>
<polygon points="3554.3,402.5 3566.3,421.5 3542.3,421.5" fill="#ff0000" stroke="#ff0000" stroke-width="3" stroke-linejoin="miter"/>
<polygon points="3556.8,401.8 3568.8,420.8 3544.8,420.8" fill="#ff0000" stroke="#ff0000" stroke-width="3" stroke-linejoin="miter"/>
<polygon points="3559.3,401.1 3571.3,420.1 3547.3,420.1" fill="#ff0000" stroke="#ff0000" stroke-width="3" stroke-linejoin="miter"/>
<polygon points="3561.8,400.3 3573.8,419.3 3549.8,419.3" fill="#ff0000" stroke="#ff0000" stroke-width="3" stroke-linejoin="miter"/>
<polygon points="3564.2,399.6 3576.2,418.6 3552.2,418.6" fill="#ff0000" stroke="#ff0000" stroke-width="3" stroke-linejoin="miter"/>
<polygon points="3566.7,398.8 3578.7,417.8 3554.7,417.8" fill="#ff0000" stroke="#ff0000" stroke-width="3" stroke-linejoin="miter"/>
<polygon points="3569.2,398.1 3581.2,417.1 3557.2,417.1" fill="#ff0000" stroke="#ff0000" stroke-width="3" stroke-linejoin="miter"/>
<polygon points="3571.7,397.5 3583.7,416.5 3559.7,416.5" fill="#ff0000" stroke="#ff0000" stroke-width="3" stroke-linejoin="miter"/>
<polygon points="3574.3,396.8 3586.3,415.8 3562.3,415.8" fill="#ff0000" stroke="#ff0000" stroke-width="3" stroke-linejoin="miter"/>
<polygon points="3576.8,396.2 3588.8,415.2 3564.8,415.2" fill="#ff0000" stroke="#ff0000" stroke-width="3" stroke-linejoin="miter"/>
<polygon points="3579.4,395.5 3591.4,414.5 3567.4,414.5" fill="#ff0000" stroke="#ff0000" stroke-width="3" stroke-linejoin="miter"/>
<polygon points="3581.9,394.9 3593.9,413.9 3569.9,413.9" fill="#ff0000" stroke="#ff0000" stroke-width="3" stroke-linejoin="miter"/>
<polygon points="3584.5,394.3 3596.5,413.3 3572.5,413.3" fill="#ff0000" stroke="#ff0000" stroke-width="3" stroke-linejoin="miter"/>
<polygon points="3587,393.6 3599,412.6 3575,412.6" fill="#ff0000" stroke="#ff0000" stroke-width="3" stroke-linejoin="miter"/>
<polygon points="3589.5,394.9 3601.5,413.9 3577.5,413.9" fill="#ff0000" stroke="#ff0000" stroke-width="3" stroke-linejoin="miter"/>
<polygon points="3592,396.1 3604,415.1 3580,415.1" fill="#ff0000" stroke="#ff0000" stroke-width="3" stroke-linejoin="miter"/>
<polygon points="3594.4,397.4 3606.4,416.4 3582.4,416.4" fill="#ff0000" stroke="#ff0000" stroke-width="3" stroke-linejoin="miter"/>
<polygon points="3596.9,398.6 3608.9,417.6 3584.9,417.6" fill="#ff0000" stroke="#ff0000" stroke-width="3" stroke-linejoin="miter"/>
<polygon points="3599.4,399.8 3611.4,418.8 3587.4,418.8" fill="#ff0000" stroke="#ff0000" stroke-width="3" stroke-linejoin="miter"/>
<polygon points="3601.9,401.1 3613.9,420.1 3589.9,420.1" fill="#ff0000" stroke="#ff0000" stroke-width="3" stroke-linejoin="miter"/>
<polygon points="3604.3,402.5 3616.3,421.5 3592.3,421.5" fill="#ff0000" stroke="#ff0000" stroke-width="3" stroke-linejoin="miter"/>
<polygon points="3606.8,403.8 3618.8,422.8 3594.8,422.8" fill="#ff0000" stroke="#ff0000" stroke-width="3" stroke-linejoin="miter"/>
<polygon points="3609.3,405.2 3621.3,424.2 3597.3,424.2" fill="#ff0000" stroke="#ff0000" stroke-width="3" stroke-linejoin="miter"/>
<polygon points="3611.8,406.6 3623.8,425.6 3599.8,425.6" fill="#ff0000" stroke="#ff0000" stroke-width="3" stroke-linejoin="miter"/>
<polygon points="3614.2,408 3626.2,427 3602.2,427" fill="#ff0000" stroke="#ff0000" stroke-width="3" stroke-linejoin="miter"/>
<polygon points="3616.7,409.4 3628.7,428.4 3604.7,428.4" fill="#ff0000" stroke="#ff0000" stroke-width="3" stroke-linejoin="miter"/>
<polygon points="3619.4,409.5 3631.4,428.5 3607.4,428.5" fill="#ff0000" stroke="#ff0000" stroke-width="3" stroke-linejoin="miter"/>
<polygon points="3622,409.6 3634,428.6 3610,428.6" fill="#ff0000" stroke="#ff0000" stroke-width="3" stroke-linejoin="miter"/>
<polygon points="3624.6,409.8 3636.6,428.8 3612.6,428.8" fill="#ff0000" stroke="#ff0000" stroke-width="3" stroke-linejoin="miter"/>
<polygon points="3627.3,409.9 3639.3,428.9 3615.3,428.9" fill="#ff0000" stroke="#ff0000" stroke-width="3" stroke-linejoin="miter"/>
<polygon points="3629.9,410 3641.9,429 3617.9,429" fill="#ff0000" stroke="#ff0000" stroke-width="3" stroke-linejoin="miter"/>
<polygon points="3632.6,410.2 3644.6,429.2 3620.6,429.2" fill="#ff0000" stroke="#ff0000" stroke-width="3" stroke-linejoin="miter"/>
<polygon points="3635.2,410.3 3647.2,429.3 3623.2,429.3" fill="#ff0000" stroke="#ff0000" stroke-width="3" stroke-linejoin="miter"/>
<polygon points="3637.8,410.4 3649.8,429.4 3625.8,429.4" fill="#ff0000" stroke="#ff0000" stroke-width="3" stroke-linejoin="miter"/>
<polygon points="3640.5,410.6 3652.5,429.6 3628.5,429.6" fill="#ff0000" stroke="#ff0000" stroke-width="3" stroke-linejoin="miter"/>
<polygon points="3643.2,410.5 3655.2,429.5 3631.2,429.5" fill="#ff0000" stroke="#ff0000" stroke-width="3" stroke-linejoin="miter"/>
<polygon points="3645.9,410.4 3657.9,429.4 3633.9,429.4" fill="#ff0000" stroke="#ff0000" stroke-width="3" stroke-linejoin="miter"/>
<polygon points="3648.6,410.2 3660.6,429.2 3636.6,429.2" fill="#ff0000" stroke="#ff0000" stroke-width="3" stroke-linejoin="miter"/>
<polygon points="3651.3,410.1 3663.3,429.1 3639.3,429.1" fill="#ff0000" stroke="#ff0000" stroke-width="3" stroke-linejoin="miter"/>
<polygon points="3654,410 3666,429 3642,429" fill="#ff0000" stroke="#ff0000" stroke-width="3" stroke-linejoin="miter"/>
<polygon points="3656.7,409.9 3668.7,428.9 3644.7,428.9" fill="#ff0000" stroke="#ff0000" stroke-width="3" stroke-linejoin="miter"/>
<polygon points="3659.4,409.8 3671.4,428.8 3647.4,428.8" fill="#ff0000" stroke="#ff0000" stroke-width="3" stroke-linejoin="miter"/>
<polygon points="3662.1,409.7 3674.1,428.7 3650.1,428.7" fill="#ff0000" stroke="#ff0000" stroke-width="3" stroke-linejoin="miter"/>
<polygon points="3664.8,409.6 3676.8,428.6 3652.8,428.6" fill="#ff0000" stroke="#ff0000" stroke-width="3" stroke-linejoin="miter"/>
<polygon points="3667.5,409.5 3679.5,428.5 3655.5,428.5" fill="#ff0000" stroke="#ff0000" stroke-width="3" stroke-linejoin="miter"/>
<polygon points="3670.2,409.4 3682.2,428.4 3658.2,428.4" fill="#ff0000" stroke="#ff0000" stroke-width="3" stroke-linejoin="miter"/>
<polygon points="3672.9,409.5 3684.9,428.5 3660.9,428.5" fill="#ff0000" stroke="#ff0000" stroke-width="3" stroke-linejoin="miter"/>
<polygon points="3675.6,409.6 3687.6,428.6 3663.6,428.6" fill="#ff0000" stroke="#ff0000" stroke-width="3" stroke-linejoin="miter"/>
<polygon points="3678.3,409.7 3690.3,428.7 3666.3,428.7" fill="#ff0000" stroke="#ff0000" stroke-width="3" stroke-linejoin="miter"/>
<polygon points="3681,409.8 3693,428.8 3669,428.8" fill="#ff0000" stroke="#ff0000" stroke-width="3" stroke-linejoin="miter"/>
<polygon points="3683.7,409.9 3695.7,428.9 3671.7,428.9" fill="#ff0000" stroke="#ff0000" stroke-width="3" stroke-linejoin="miter"/>
<polygon points="3686.4,410 3698.4,429 3674.4,429" fill="#ff0000" stroke="#ff0000" stroke-width="3" stroke-linejoin="miter"/>
<polygon points="3689.1,410.1 3701.1,429.1 3677.1,429.1" fill="#ff0000" stroke="#ff0000" stroke-width="3" stroke-linejoin="miter"/>
<polygon points="3691.8,410.2 3703.8,429.2 3679.8,429.2" fill="#ff0000" stroke="#ff0000" stroke-width="3" stroke-linejoin="miter"/>
<polygon points="3694.5,410.4 3706.5,429.4 3682.5,429.4" fill="#ff0000" stroke="#ff0000" stroke-width="3" stroke-linejoin="miter"/>
<polygon points="3697.2,410.5 3709.2,429.5 3685.2,429.5" fill="#ff0000" stroke="#ff0000" stroke-width="3" stroke-linejoin="miter"/>
<polygon points="3699.9,410.6 3711.9,429.6 3687.9,429.6" fill="#ff0000" stroke="#ff0000" stroke-width="3" stroke-linejoin="miter"/>
<polygon points="3702.6,410.7 3714.6,429.7 3690.6,429.7" fill="#ff0000" stroke="#ff0000" stroke-width="3" stroke-linejoin="miter"/>
<polygon points="3705.3,410.7 3717.3,429.7 3693.3,429.7" fill="#ff0000" stroke="#ff0000" stroke-width="3" stroke-linejoin="miter"/>
<polygon points="3708,410.8 3720,429.8 3696,429.8" fill="#ff0000" stroke="#ff0000" stroke-width="3" stroke-linejoin="miter"/>
<polygon points="3710.7,410.9 3722.7,429.9 3698.7,429.9" fill="#ff0000" stroke="#ff0000" stroke-width="3" stroke-linejoin="miter"/>
<polygon points="3713.4,411 3725.4,430 3701.4,430" fill="#ff0000" stroke="#ff0000" stroke-width="3" stroke-linejoin="miter"/>
<polygon points="3716.1,411.1 3728.1,430.1 3704.1,430.1" fill="#ff0000" stroke="#ff0000" stroke-width="3" stroke-linejoin="miter"/>
<polygon points="3718.8,411.1 3730.8,430.1 3706.8,430.1" fill="#ff0000" stroke="#ff0000" stroke-width="3" stroke-linejoin="miter"/>
<polygon points="3721.5,411.2 3733.5,430.2 3709.5,430.2" fill="#ff0000" stroke="#ff0000" stroke-width="3" stroke-linejoin="miter"/>
<polygon points="3724.2,411.3 3736.2,430.3 3712.2,430.3" fill="#ff0000" stroke="#ff0000" stroke-width="3" stroke-linejoin="miter"/>
<polygon points="3726.9,411.4 3738.9,430.4 3714.9,430.4" fill="#ff0000" stroke="#ff0000" stroke-width="3" stroke-linejoin="miter"/>
<polygon points="3729.6,411.5 3741.6,430.5 3717.6,430.5" fill="#ff0000" stroke="#ff0000" stroke-width="3" stroke-linejoin="miter"/>
<polygon points="3732.3,411.5 3744.3,430.5 3720.3,430.5" fill="#ff0000" stroke="#ff0000" stroke-width="3" stroke-linejoin="miter"/>
<polygon points="3734.9,411.6 3746.9,430.6 3722.9,430.6" fill="#ff0000" stroke="#ff0000" stroke-width="3" stroke-linejoin="miter"/>
<polygon points="3737.6,411.7 3749.6,430.7 3725.6,430.7" fill="#ff0000" stroke="#ff0000" stroke-width="3" stroke-linejoin="miter"/>
<polygon points="3740.2,411.7 3752.2,430.7 3728.2,430.7" fill="#ff0000" stroke="#ff0000" stroke-width="3" stroke-linejoin="miter"/>
<polygon points="3742.9,411.8 3754.9,430.8 3730.9,430.8" fill="#ff0000" stroke="#ff0000" stroke-width="3" stroke-linejoin="miter"/>
<polygon points="3745.5,411.8 3757.5,430.8 3733.5,430.8" fill="#ff0000" stroke="#ff0000" stroke-width="3" stroke-linejoin="miter"/>
<polygon points="3748.2,411.9 3760.2,430.9 3736.2,430.9" fill="#ff0000" stroke="#ff0000" stroke-width="3" stroke-linejoin="miter"/>
<polygon points="3750.8,412 3762.8,431 3738.8,431" fill="#ff0000" stroke="#ff0000" stroke-width="3" stroke-linejoin="miter"/>
<polygon points="3753.5,412 3765.5,431 3741.5,431" fill="#ff0000" stroke="#ff0000" stroke-width="3" stroke-linejoin="miter"/>
<polygon points="3756.1,412.1 3768.1,431.1 3744.1,431.1" fill="#ff0000" stroke="#ff0000" stroke-width="3" stroke-linejoin="miter"/>
<polygon points="3766.7,412.4 3779.2,431.4 3754.2,431.4" fill="#fff" stroke="#ff0000" stroke-width="3.5" stroke-linejoin="miter"/>
<rect x="524.3" y="1058.6" width="270.6" height="759.9" fill="#fdfbe9"/>
<polyline points="185.6,1406.1 189.3,1407 194.1,1406.4 199.7,1407 205.9,1407 212.7,1405 219.8,1404.7 227,1407.2 234.2,1405.2 241.1,1405 247.5,1407.3 253.7,1405.5 259.9,1406.6 266.1,1405.3 272.3,1405.7 278.5,1404 284.7,1405.5 290.8,1406.1 297,1404.9 303.2,1405.4 309.4,1405.1 315.6,1403 321.8,1405 328,1404.4 334.2,1403.3 340.3,1402.3 346.5,1404.8 352.7,1403.4 358.9,1403.9 365.1,1404.2 371.3,1403.3 377.6,1403.6 384.1,1401.5 390.6,1402.4 397.2,1400.7 403.8,1401.8 410.2,1401 416.4,1398 422.4,1397.6 428,1397.3 433.2,1399.2 437.9,1397 442.4,1397.2 446.5,1395.7 450.4,1395.9 454.1,1395 457.5,1394.4 460.8,1394.7 464.1,1394.2 467.2,1394.6 470.3,1393.3 473.3,1393.5 476,1392.6 478.6,1392.4 481.1,1390.2 483.4,1389.5 485.7,1388.7 488,1387.9 490.3,1387.1 492.6,1386.3 495,1385.3 497.6,1384.3 500.1,1383.3 502.7,1382.2 505.2,1381.1 507.8,1379.9 510.3,1378.7 512.8,1377.5 515.2,1376.2 517.6,1374.9 519.8,1373.6 521.9,1372.2 523.9,1370.9 525.8,1369.5 527.7,1368.1 529.5,1366.7 531.2,1365.2 533,1363.7 534.8,1362.1 536.5,1360.5 538.4,1358.7 540.2,1356.9 542.1,1355 544,1353 545.9,1351 547.8,1348.9 549.7,1346.8 551.6,1344.6 553.4,1342.3 555.2,1340 556.9,1337.7 558.6,1335.3 560.3,1332.8 561.9,1330.2 563.5,1327.6 565.1,1325 566.6,1322.3 568.1,1319.5 569.6,1316.8 571,1313.9 572.4,1311.1 573.8,1308.2 575.1,1305.3 576.4,1302.3 577.7,1299.3 579,1296.3 580.2,1293.2 581.4,1290 582.5,1286.8 583.7,1283.5 584.8,1280.1 585.8,1276.7 586.9,1273.2 587.8,1269.7 588.8,1266.2 589.7,1262.5 590.6,1258.8 591.5,1255 592.4,1251.1 593.2,1247.1 594.1,1243 594.9,1238.8 595.7,1234.4 596.4,1229.9 597.2,1225.4 597.9,1220.8 598.6,1216 599.4,1211.3 600.1,1206.4 600.8,1201.5 601.5,1196.6 602.2,1191.5 602.9,1186.3 603.6,1181 604.3,1175.5 605,1170.1 605.7,1164.7 606.4,1159.3 607,1154 607.7,1148.9 608.3,1144 608.9,1139.1 609.5,1134.3 610.1,1129.4 610.6,1124.6 611.2,1119.9 611.7,1115.5 612.3,1111.2 612.8,1107.3 613.3,1103.8 613.9,1100.7 614.4,1097.9 614.9,1095.5 615.4,1093.4 615.9,1091.6 616.4,1090.1 616.9,1088.8 617.3,1087.8 617.8,1087.1 618.3,1086.7 618.8,1086.4 619.3,1086.5 619.8,1086.7 620.3,1087.2 620.8,1088 621.3,1089 621.8,1090.4 622.3,1092 622.8,1093.9 623.3,1096.2 623.8,1098.8 624.2,1101.8 624.7,1105 625.1,1108.6 625.5,1112.5 626,1116.7 626.4,1121.2 626.8,1126 627.2,1131.1 627.7,1136.5 628.1,1142.1 628.5,1148.2 629,1154.6 629.4,1161.4 629.8,1168.5 630.2,1175.9 630.6,1183.5 631.1,1191.3 631.5,1199.2 632,1207.2 632.4,1215.1 632.9,1223.3 633.4,1231.8 633.9,1240.5 634.4,1249.4 634.9,1258.4 635.4,1267.4 635.9,1276.3 636.4,1285 636.9,1293.6 637.4,1301.8 637.8,1309.7 638.3,1317.3 638.7,1324.8 639.1,1332.1 639.5,1339.3 640,1346.5 640.4,1353.7 640.8,1361 641.3,1368.4 641.7,1376 642.2,1383.9 642.6,1391.9 643.1,1400.1 643.6,1408.4 644.1,1416.6 644.6,1424.9 645.1,1433.1 645.6,1441.1 646.1,1448.9 646.7,1456.5 647.2,1463.8 647.8,1471 648.4,1478 649,1485 649.6,1491.8 650.2,1498.5 650.8,1505.1 651.5,1511.6 652.1,1518.1 652.8,1524.6 653.6,1531 654.3,1537.5 655.1,1544 655.9,1550.4 656.7,1556.7 657.5,1562.9 658.4,1568.9 659.2,1574.6 660.1,1580.1 660.9,1585.2 661.7,1590 662.6,1594.7 663.4,1599.1 664.3,1603.3 665.1,1607.3 666,1611.1 666.9,1614.6 667.8,1617.8 668.7,1620.8 669.6,1623.6 670.5,1626 671.4,1628.3 672.3,1630.3 673.3,1632 674.2,1633.5 675.2,1634.8 676.1,1635.8 677,1636.5 678,1637 678.8,1637.2 679.7,1637.1 680.5,1636.7 681.2,1636 681.9,1635 682.7,1633.8 683.4,1632.3 684.2,1630.7 685,1628.9 685.9,1626.9 686.9,1624.8 687.9,1622.5 689,1619.9 690.1,1617.1 691.2,1614.1 692.4,1611 693.7,1607.7 695,1604.3 696.3,1600.8 697.7,1597.3 699.3,1593.9 700.8,1590.3 702.5,1586.7 704.2,1582.9 705.9,1579 707.8,1575.1 709.7,1571.2 711.6,1567.2 713.6,1563.3 715.7,1559.4 717.8,1555.5 720,1551.6 722.4,1547.7 724.8,1543.8 727.3,1539.9 729.8,1536 732.4,1532.1 735,1528.2 737.5,1524.4 740.1,1520.7 742.6,1517.1 745,1513.6 747.5,1510 750,1506.5 752.5,1503.1 755,1499.7 757.4,1496.4 759.9,1493.2 762.4,1490.1 764.9,1487.1 767.3,1484.3 769.8,1481.7 772.3,1479.2 774.8,1476.8 777.2,1474.5 779.7,1472.3 782.2,1470.3 784.7,1468.3 787.1,1466.4 789.6,1464.5 792.1,1462.7 794.5,1460.9 796.9,1459.3 799.3,1457.7 801.7,1456.3 804.1,1454.9 806.5,1453.5 809,1452.2 811.5,1450.9 814.1,1449.7 816.8,1448.4 819.7,1447.2 822.6,1446 825.7,1444.9 828.8,1443.8 831.9,1443.2 835.1,1440.6 838.3,1441.8 841.5,1441.2 844.7,1440.1 847.8,1438.1 850.8,1437.8 853.7,1435.5 856.5,1436.8 859.3,1435.3 862.1,1433.8 865,1432.6 868.1,1434.5 871.3,1434.4 874.9,1431 878.7,1432.7 883,1430.9 887.6,1429.4 892.6,1429.3 897.8,1430.2 903.1,1429.9 908.4,1426.7 913.7,1428 918.8,1425.6 923.7,1427.3 928.2,1425.6 932.4,1427 936.4,1427 940.3,1425.2 944,1426.5 947.6,1424 951.1,1423.1 954.6,1424.6 958.1,1422.6 961.7,1422.9 965.3,1423.4 969.1,1423.9 972.8,1422.2 976.5,1421.7 980.2,1424.1 983.9,1422.2 987.6,1424.1 991.3,1423.8 995,1422.1 998.8,1422.3 1002.5,1422.5 1006.2,1423 1010.1,1422.9 1014,1423 1017.9,1423.3 1021.7,1424.6 1025.6,1423.4 1029.3,1423.4 1032.9,1424.6 1036.3,1423.2 1039.6,1423.7 1042.8,1426.1 1045.9,1424.9 1049,1425.2 1052,1423.8 1054.9,1425.4 1057.6,1426.2 1060.1,1424.7 1062.2,1426.8 1064.1,1427.1 1065.6,1425.4" fill="none" stroke="#ff0000" stroke-width="5.5" stroke-linejoin="round"/>
<polyline points="185.6,1689.7 188.6,1690.5 191.6,1691.2 194.6,1692.2 197.6,1691.8 200.6,1692.4 203.6,1688.8 206.6,1689 209.6,1691.1 212.6,1691 215.6,1692 218.6,1689.1 221.6,1689.2 224.6,1688.3 227.6,1689.1 230.6,1689.7 233.6,1687.5 236.6,1687.4 239.6,1687.6 242.6,1690.5 245.6,1691.3 248.6,1689.1 251.6,1690.8 254.6,1688.7 257.6,1689.8 260.6,1688.2 263.6,1686.9 266.6,1690.1 269.6,1688.8 272.6,1688.2 275.6,1691.3 278.6,1692.3 281.6,1690.3 284.6,1692.3 287.6,1691.4 290.6,1691.6 293.6,1689.6 296.6,1691.9 299.6,1692 302.6,1693.2 305.6,1693.5 308.6,1691.1 311.6,1690.2 314.6,1688.8 317.6,1688.1 320.6,1687.4 323.6,1688.1 326.6,1689.8 329.6,1688 332.6,1690.1 335.6,1689.7 338.6,1689.4 341.6,1691.5 344.6,1691 347.6,1690.1 350.6,1690.4 353.6,1691.5 356.6,1689.3 359.6,1692.2 362.6,1689.5 365.6,1691.3 368.6,1692.7 371.6,1689.7 374.6,1691.7 377.6,1690.8 380.6,1691.3 383.6,1689.1 386.6,1688.1 389.6,1688.3 392.6,1691.8 395.6,1690.2 398.6,1691.9 401.6,1693.5 404.6,1694.4 407.6,1692.2 410.6,1691.2 413.6,1691.4 416.6,1692.7 419.6,1690.4 422.6,1692.1 425.6,1693.1 428.6,1694 431.6,1690.8 434.6,1693.2 437.6,1690.6 440.6,1690.5 443.6,1691.6 446.6,1693.5 449.6,1691.9 452.6,1693.7 455.6,1692.9 458.6,1691.5 461.6,1690.9 464.6,1689.9 467.6,1689 470.6,1688.9 473.6,1691.2 476.6,1693.7 479.6,1691.3 482.6,1689.6 485.6,1692.9 488.6,1692.6 491.6,1691.9 494.6,1690.8 497.6,1691.8 500.6,1693.3 503.6,1692.5 506.6,1691.9 509.6,1690 512.6,1692.9 515.6,1690.4 518.6,1691.2 521.6,1693.2 524.6,1691 527.6,1692.6 530.6,1694.4 533.6,1693.8 536.6,1694.3 539.6,1691.5 542.6,1691.6 545.6,1690.4 548.6,1692.8 551.6,1691.6 554.6,1691.8 557.6,1694.2 560.6,1694.8 563.6,1695.7 566.6,1693.8 569.6,1693 572.6,1693.7 575.6,1693 578.6,1691.8 581.6,1691.7 584.6,1690.5 587.6,1690.9 590.6,1693.9 593.6,1695.2 596.6,1694.4 599.6,1693.5 602.6,1692.3 605.6,1690.6 608.6,1690.6 611.6,1692.8 614.6,1694.3 617.6,1692.9 620.6,1694 623.6,1694.5 626.6,1694.5 629.6,1694.3 632.6,1694.6 635.6,1693.1 638.6,1693.8 641.6,1692.3 644.6,1692.5 647.6,1693.8 650.6,1694.1 653.6,1692.6 656.6,1694.7 659.6,1694.4 662.6,1694 665.6,1691.3 668.6,1692.5 671.6,1693.3 674.6,1696.4 677.6,1697.9 680.6,1701 683.6,1699.2 686.6,1698.1 689.6,1694.6 692.6,1694.9 695.6,1695.6 698.6,1696.3 701.6,1694.6 704.6,1695.9 707.6,1696.7 710.6,1696.3 713.6,1697.4 716.6,1697.9 719.6,1696.2 722.6,1695.4 725.6,1693.4 728.6,1695.4 731.6,1696.8 734.6,1695.5 737.6,1695.8 740.6,1696.1 743.6,1696.3 746.6,1694 749.6,1695.5 752.6,1695.4 755.6,1695.7 758.6,1694.8 761.6,1695.3 764.6,1696.2 767.6,1696 770.6,1696.3 773.6,1693.4 776.6,1692.6 779.6,1693.4 782.6,1694.8 785.6,1693.5 788.6,1695 791.6,1695.5 794.6,1693.2 797.6,1693.9 800.6,1693.2 803.6,1692.1 806.6,1691.9 809.6,1692.6 812.6,1692.4 815.6,1692.4 818.6,1691.7 821.6,1693.2 824.6,1693.6 827.6,1694.8 830.6,1695.4 833.6,1694.1 836.6,1696.4 839.6,1693.6 842.6,1694 845.6,1693.6 848.6,1694 851.6,1693 854.6,1695.6 857.6,1694.9 860.6,1693.1 863.6,1694.7 866.6,1693.3 869.6,1694.5 872.6,1694.3 875.6,1695.3 878.6,1697.4 881.6,1697.9 884.6,1696.4 887.6,1697.4 890.6,1697.2 893.6,1695.9 896.6,1694.2 899.6,1695.4 902.6,1695.9 905.6,1697.9 908.6,1699 911.6,1697.9 914.6,1696.3 917.6,1697.9 920.6,1694.8 923.6,1693.7 926.6,1695.2 929.6,1696.2 932.6,1694.6 935.6,1696 938.6,1697.9 941.6,1696.5 944.6,1696.2 947.6,1695.1 950.6,1694.8 953.6,1697.7 956.6,1696.6 959.6,1698.6 962.6,1699.4 965.6,1698.4 968.6,1696.5 971.6,1698.7 974.6,1697.7 977.6,1696.9 980.6,1696 983.6,1698.6 986.6,1697.7 989.6,1696.4 992.6,1696.6 995.6,1695.1 998.6,1696.6 1001.6,1696.6 1004.6,1695.9 1007.6,1697.8 1010.6,1698.9 1013.6,1695.9 1016.6,1696.7 1019.6,1696 1022.6,1698.6 1025.6,1699.2 1028.6,1697.2 1031.6,1696.3 1034.6,1695.4 1037.6,1698.6 1040.6,1697.2 1043.6,1697.8 1046.6,1697.6 1049.6,1698.3 1052.6,1698.4 1055.6,1699.2 1058.6,1696.8 1061.6,1698.4 1064.6,1697.3" fill="none" stroke="#4a4af2" stroke-width="5" stroke-linejoin="round"/>
<polyline points="185.6,1747.2 188.6,1746.7 191.6,1745.5 194.6,1748.1 197.6,1745.7 200.6,1746.6 203.6,1748.9 206.6,1746.4 209.6,1747.3 212.6,1748.1 215.6,1745.9 218.6,1746.4 221.6,1748 224.6,1747.8 227.6,1748.9 230.6,1747 233.6,1746.4 236.6,1745.5 239.6,1746.9 242.6,1749.4 245.6,1749.2 248.6,1750 251.6,1748.7 254.6,1749.6 257.6,1747.3 260.6,1747 263.6,1748.5 266.6,1749.5 269.6,1748.7 272.6,1746.9 275.6,1746.8 278.6,1746.5 281.6,1746.7 284.6,1749.1 287.6,1747.7 290.6,1750 293.6,1751.2 296.6,1748.1 299.6,1748.1 302.6,1748.6 305.6,1746.8 308.6,1747.7 311.6,1750.3 314.6,1748.1 317.6,1749.1 320.6,1747.6 323.6,1748.9 326.6,1750.9 329.6,1748.9 332.6,1747.1 335.6,1746.5 338.6,1748.3 341.6,1746.9 344.6,1746.5 347.6,1748.1 350.6,1750.8 353.6,1750 356.6,1749.5 359.6,1750.4 362.6,1748.4 365.6,1749.6 368.6,1748.4 371.6,1749.8 374.6,1752 377.6,1749.2 380.6,1750 383.6,1750.6 386.6,1749 389.6,1748.7 392.6,1751.8 395.6,1753.3 398.6,1750.3 401.6,1751.4 404.6,1753 407.6,1750.7 410.6,1751.2 413.6,1749 416.6,1749.3 419.6,1750.9 422.6,1751.3 425.6,1752.3 428.6,1749.9 431.6,1749.8 434.6,1752 437.6,1752 440.6,1751.3 443.6,1750.8 446.6,1753.2 449.6,1752.5 452.6,1749.8 455.6,1751.9 458.6,1750.9 461.6,1750.8 464.6,1749.9 467.6,1750.4 470.6,1750.2 473.6,1749 476.6,1750.8 479.6,1749.5 482.6,1751.8 485.6,1749.6 488.6,1751.9 491.6,1753.1 494.6,1752.4 497.6,1753 500.6,1751.3 503.6,1752.6 506.6,1751.9 509.6,1750.7 512.6,1753.4 515.6,1752.2 518.6,1751.5 521.6,1753.4 524.6,1752.1 527.6,1752.8 530.6,1751 533.6,1753.1 536.6,1751.6 539.6,1749.9 542.6,1753.2 545.6,1751.3 548.6,1753.8 551.6,1755.2 554.6,1754.2 557.6,1751.2 560.6,1749.9 563.6,1749.9 566.6,1750.7 569.6,1752.1 572.6,1754.4 575.6,1752.8 578.6,1751.2 581.6,1752.2 584.6,1750.8 587.6,1750 590.6,1751.6 593.6,1753.1 596.6,1751 599.6,1751.7 602.6,1753.2 605.6,1754.2 608.6,1753.1 611.6,1754.7 614.6,1752.4 617.6,1753.7 620.6,1754.6 623.6,1755.5 626.6,1754.3 629.6,1752 632.6,1750.6 635.6,1752 638.6,1751.2 641.6,1752.8 644.6,1751.2 647.6,1753.5 650.6,1752.2 653.6,1750.7 656.6,1750.6 659.6,1751.9 662.6,1753 665.6,1753 668.6,1753.8 671.6,1756.4 674.6,1760.6 677.6,1761.8 680.6,1761.8 683.6,1757 686.6,1758.1 689.6,1757.5 692.6,1756.3 695.6,1755.7 698.6,1755.5 701.6,1757 704.6,1754.1 707.6,1755.2 710.6,1755.3 713.6,1754.3 716.6,1755.7 719.6,1756.5 722.6,1754.1 725.6,1755.6 728.6,1755.3 731.6,1755.3 734.6,1755.9 737.6,1753.7 740.6,1755.1 743.6,1754.8 746.6,1756.8 749.6,1755.1 752.6,1756.8 755.6,1757.3 758.6,1757.1 761.6,1758.1 764.6,1754.9 767.6,1755.8 770.6,1756.4 773.6,1757 776.6,1756.1 779.6,1754.2 782.6,1753.8 785.6,1755.4 788.6,1754.4 791.6,1753.4 794.6,1754.2 797.6,1755.1 800.6,1755.9 803.6,1754.1 806.6,1756.5 809.6,1755.7 812.6,1757.4 815.6,1754.8 818.6,1757.7 821.6,1757.6 824.6,1759.2 827.6,1760.1 830.6,1759.9 833.6,1756.6 836.6,1756.1 839.6,1755.3 842.6,1757.4 845.6,1755.8 848.6,1755.2 851.6,1754.4 854.6,1754.1 857.6,1757.5 860.6,1759.5 863.6,1757.8 866.6,1758.6 869.6,1757.8 872.6,1757.7 875.6,1757 878.6,1757.9 881.6,1756.6 884.6,1756 887.6,1756.9 890.6,1756 893.6,1756.6 896.6,1759.2 899.6,1756.4 902.6,1755.5 905.6,1758.1 908.6,1756.1 911.6,1756 914.6,1758.7 917.6,1758.9 920.6,1757.4 923.6,1755.9 926.6,1756.2 929.6,1756.4 932.6,1758.8 935.6,1760.8 938.6,1761 941.6,1761.6 944.6,1762.1 947.6,1762.1 950.6,1762.3 953.6,1762.7 956.6,1759 959.6,1758.2 962.6,1757.5 965.6,1758.8 968.6,1759 971.6,1758.4 974.6,1760.3 977.6,1759.4 980.6,1758.1 983.6,1757.8 986.6,1758.5 989.6,1759.5 992.6,1759.9 995.6,1759.5 998.6,1758.3 1001.6,1758.6 1004.6,1758.5 1007.6,1757.7 1010.6,1759 1013.6,1758.2 1016.6,1760.1 1019.6,1760.8 1022.6,1758.9 1025.6,1760.1 1028.6,1759.5 1031.6,1759.7 1034.6,1760.5 1037.6,1761.7 1040.6,1762.8 1043.6,1762.7 1046.6,1760.4 1049.6,1760.7 1052.6,1760 1055.6,1758.3 1058.6,1759.8 1061.6,1760.2 1064.6,1762.2" fill="none" stroke="#a04fa0" stroke-width="5" stroke-linejoin="round"/>
<rect x="117.6" y="1058.6" width="1016.7" height="759.9" fill="none" stroke="#000" stroke-width="4"/>
<line x1="253.7" y1="1818.5" x2="253.7" y2="1806.5" stroke="#000" stroke-width="3.5"/>
<line x1="524.3" y1="1818.5" x2="524.3" y2="1806.5" stroke="#000" stroke-width="3.5"/>
<line x1="794.9" y1="1818.5" x2="794.9" y2="1806.5" stroke="#000" stroke-width="3.5"/>
<line x1="1065.5" y1="1818.5" x2="1065.5" y2="1806.5" stroke="#000" stroke-width="3.5"/>
<line x1="389" y1="1818.5" x2="389" y2="1812.5" stroke="#000" stroke-width="3.5"/>
<line x1="659.6" y1="1818.5" x2="659.6" y2="1812.5" stroke="#000" stroke-width="3.5"/>
<line x1="930.2" y1="1818.5" x2="930.2" y2="1812.5" stroke="#000" stroke-width="3.5"/>
<text x="253.7" y="1878" font-size="55" text-anchor="middle" fill="#000">320</text>
<text x="524.3" y="1878" font-size="55" text-anchor="middle" fill="#000">322</text>
<text x="794.9" y="1878" font-size="55" text-anchor="middle" fill="#000">324</text>
<text x="1065.5" y="1878" font-size="55" text-anchor="middle" fill="#000">326</text>
<text x="624.5" y="1936" font-size="56.6" text-anchor="middle" fill="#000">Magnetic field (mT)</text>
<text x="0" y="0" font-size="57.5" text-anchor="middle" fill="#000" transform="translate(46.5,1438) rotate(-90)">Intensity (a.u.)</text>
<text x="155.5" y="1132.5" font-size="77.5" text-anchor="start" fill="#000" font-weight="bold">D</text>
<line x1="733" y1="1107" x2="798" y2="1107" stroke="#ff0000" stroke-width="5.5"/>
<line x1="733" y1="1181" x2="798" y2="1181" stroke="#4a4af2" stroke-width="5"/>
<line x1="733" y1="1244" x2="798" y2="1244" stroke="#a04fa0" stroke-width="5"/>
<text x="815" y="1126" font-size="56" text-anchor="start" fill="#000">TiO<tspan dy="12" font-size="40" font-style="italic">x</tspan><tspan dy="-12">C</tspan><tspan dy="12" font-size="40" font-style="italic">y</tspan><tspan dy="-12">@CN</tspan></text>
<text x="815" y="1200" font-size="56" text-anchor="start" fill="#000">P25/CN</text>
<text x="815" y="1262" font-size="56" text-anchor="start" fill="#000">CN</text>
<text x="659" y="1416" font-size="56" text-anchor="start" fill="#1c1ca0"><tspan font-style="italic">g</tspan>=2.0023</text>
<text x="232" y="1512" font-size="56" text-anchor="start" fill="#1c1ca0">Defect of TiO<tspan dy="14" font-size="40">2−</tspan><tspan font-size="40" font-style="italic">x</tspan></text>
<line x1="581" y1="1481" x2="622" y2="1445" stroke="#000" stroke-width="4"/>
<polygon points="632,1436 609,1445 622,1456" fill="#000"/>
<defs><linearGradient id="barg" x1="0" y1="0" x2="0" y2="1"><stop offset="0" stop-color="#7f7ff0"/><stop offset="1" stop-color="#d6d6fa"/></linearGradient></defs>
<rect x="1646.5" y="1815.5" width="79" height="3" fill="url(#barg)" stroke="#6a6ad8" stroke-width="1"/>
<rect x="1849" y="1805" width="79" height="13.5" fill="url(#barg)" stroke="#6a6ad8" stroke-width="1"/>
<rect x="2051.6" y="1798" width="79" height="20.5" fill="url(#barg)" stroke="#6a6ad8" stroke-width="1"/>
<rect x="2254.1" y="1793.7" width="79" height="24.8" fill="url(#barg)" stroke="#6a6ad8" stroke-width="1"/>
<line x1="1399.3" y1="1331.4" x2="2414" y2="1331.4" stroke="#000" stroke-width="7" stroke-dasharray="38.5 34.7"/>
<line x1="1399.3" y1="1058.6" x2="2414" y2="1058.6" stroke="#000" stroke-width="4"/>
<line x1="1399.3" y1="1818.5" x2="2414" y2="1818.5" stroke="#000" stroke-width="4"/>
<line x1="1399.3" y1="1056.6" x2="1399.3" y2="1820.5" stroke="#008000" stroke-width="4"/>
<line x1="2414" y1="1056.6" x2="2414" y2="1820.5" stroke="#0000ff" stroke-width="4"/>
<line x1="1483.4" y1="1818.5" x2="1483.4" y2="1806.5" stroke="#000" stroke-width="3.5"/>
<line x1="1652.2" y1="1818.5" x2="1652.2" y2="1806.5" stroke="#000" stroke-width="3.5"/>
<line x1="1821" y1="1818.5" x2="1821" y2="1806.5" stroke="#000" stroke-width="3.5"/>
<line x1="1989.8" y1="1818.5" x2="1989.8" y2="1806.5" stroke="#000" stroke-width="3.5"/>
<line x1="2158.6" y1="1818.5" x2="2158.6" y2="1806.5" stroke="#000" stroke-width="3.5"/>
<line x1="2327.4" y1="1818.5" x2="2327.4" y2="1806.5" stroke="#000" stroke-width="3.5"/>
<line x1="1399" y1="1818.5" x2="1399" y2="1812.5" stroke="#000" stroke-width="3.5"/>
<line x1="1567.8" y1="1818.5" x2="1567.8" y2="1812.5" stroke="#000" stroke-width="3.5"/>
<line x1="1736.6" y1="1818.5" x2="1736.6" y2="1812.5" stroke="#000" stroke-width="3.5"/>
<line x1="1905.4" y1="1818.5" x2="1905.4" y2="1812.5" stroke="#000" stroke-width="3.5"/>
<line x1="2074.2" y1="1818.5" x2="2074.2" y2="1812.5" stroke="#000" stroke-width="3.5"/>
<line x1="2243" y1="1818.5" x2="2243" y2="1812.5" stroke="#000" stroke-width="3.5"/>
<line x1="2411.8" y1="1818.5" x2="2411.8" y2="1812.5" stroke="#000" stroke-width="3.5"/>
<line x1="1399.3" y1="1762.8" x2="1411.3" y2="1762.8" stroke="#008000" stroke-width="3.5"/>
<line x1="1399.3" y1="1654.5" x2="1411.3" y2="1654.5" stroke="#008000" stroke-width="3.5"/>
<line x1="1399.3" y1="1546.2" x2="1411.3" y2="1546.2" stroke="#008000" stroke-width="3.5"/>
<line x1="1399.3" y1="1437.9" x2="1411.3" y2="1437.9" stroke="#008000" stroke-width="3.5"/>
<line x1="1399.3" y1="1329.6" x2="1411.3" y2="1329.6" stroke="#008000" stroke-width="3.5"/>
<line x1="1399.3" y1="1221.3" x2="1411.3" y2="1221.3" stroke="#008000" stroke-width="3.5"/>
<line x1="1399.3" y1="1113" x2="1411.3" y2="1113" stroke="#008000" stroke-width="3.5"/>
<line x1="1399.3" y1="1708.6" x2="1405.3" y2="1708.6" stroke="#008000" stroke-width="3.5"/>
<line x1="1399.3" y1="1600.3" x2="1405.3" y2="1600.3" stroke="#008000" stroke-width="3.5"/>
<line x1="1399.3" y1="1492" x2="1405.3" y2="1492" stroke="#008000" stroke-width="3.5"/>
<line x1="1399.3" y1="1383.8" x2="1405.3" y2="1383.8" stroke="#008000" stroke-width="3.5"/>
<line x1="1399.3" y1="1275.5" x2="1405.3" y2="1275.5" stroke="#008000" stroke-width="3.5"/>
<line x1="1399.3" y1="1167.2" x2="1405.3" y2="1167.2" stroke="#008000" stroke-width="3.5"/>
<line x1="1399.3" y1="1058.8" x2="1405.3" y2="1058.8" stroke="#008000" stroke-width="3.5"/>
<line x1="2414" y1="1818.5" x2="2402" y2="1818.5" stroke="#0000ff" stroke-width="3.5"/>
<line x1="2414" y1="1628.5" x2="2402" y2="1628.5" stroke="#0000ff" stroke-width="3.5"/>
<line x1="2414" y1="1438.5" x2="2402" y2="1438.5" stroke="#0000ff" stroke-width="3.5"/>
<line x1="2414" y1="1248.5" x2="2402" y2="1248.5" stroke="#0000ff" stroke-width="3.5"/>
<line x1="2414" y1="1058.5" x2="2402" y2="1058.5" stroke="#0000ff" stroke-width="3.5"/>
<line x1="2414" y1="1723.5" x2="2408" y2="1723.5" stroke="#0000ff" stroke-width="3.5"/>
<line x1="2414" y1="1533.5" x2="2408" y2="1533.5" stroke="#0000ff" stroke-width="3.5"/>
<line x1="2414" y1="1343.5" x2="2408" y2="1343.5" stroke="#0000ff" stroke-width="3.5"/>
<line x1="2414" y1="1153.5" x2="2408" y2="1153.5" stroke="#0000ff" stroke-width="3.5"/>
<text x="1483.4" y="1878" font-size="55" text-anchor="middle" fill="#000">0</text>
<text x="1652.2" y="1878" font-size="55" text-anchor="middle" fill="#000">20</text>
<text x="1821" y="1878" font-size="55" text-anchor="middle" fill="#000">40</text>
<text x="1989.8" y="1878" font-size="55" text-anchor="middle" fill="#000">60</text>
<text x="2158.6" y="1878" font-size="55" text-anchor="middle" fill="#000">80</text>
<text x="2327.4" y="1878" font-size="55" text-anchor="middle" fill="#000">100</text>
<text x="1381" y="1781.8" font-size="55" text-anchor="end" fill="#008000">0</text>
<text x="1381" y="1673.5" font-size="55" text-anchor="end" fill="#008000">25</text>
<text x="1381" y="1565.2" font-size="55" text-anchor="end" fill="#008000">50</text>
<text x="1381" y="1456.9" font-size="55" text-anchor="end" fill="#008000">75</text>
<text x="1381" y="1348.6" font-size="55" text-anchor="end" fill="#008000">100</text>
<text x="1381" y="1240.3" font-size="55" text-anchor="end" fill="#008000">125</text>
<text x="1381" y="1132" font-size="55" text-anchor="end" fill="#008000">150</text>
<text x="2432" y="1837.5" font-size="55" text-anchor="start" fill="#0000ff">0</text>
<text x="2432" y="1647.5" font-size="55" text-anchor="start" fill="#0000ff">5</text>
<text x="2432" y="1457.5" font-size="55" text-anchor="start" fill="#0000ff">10</text>
<text x="2432" y="1267.5" font-size="55" text-anchor="start" fill="#0000ff">15</text>
<text x="2432" y="1077.5" font-size="55" text-anchor="start" fill="#0000ff">20</text>
<text x="1908" y="1939" font-size="58.5" text-anchor="middle" fill="#000">Time (hour)</text>
<text x="0" y="0" font-size="56" text-anchor="middle" fill="#008000" transform="translate(1273,1410) rotate(-90)">Effluent Ti concentration (µg liter<tspan dy="-20" font-size="38">−1</tspan><tspan dy="20">)</tspan></text>
<text x="0" y="0" font-size="56.8" text-anchor="middle" fill="#0000ff" transform="translate(2537,1431) rotate(-90)">Leached Ti element (%)</text>
<text x="1447.5" y="1132.5" font-size="77.5" text-anchor="start" fill="#000" font-weight="bold">E</text>
<text x="1897.5" y="1299" font-size="56.5" text-anchor="middle" fill="#000">GB18918 Ti discharge limitation</text>
<text x="1898" y="1388.5" font-size="56.8" text-anchor="middle" fill="#000">U.S. EPA's drinking water</text>
<text x="1905.5" y="1456.5" font-size="56.8" text-anchor="middle" fill="#000">regulations for Cr</text>
<rect x="1842" y="1553" width="125" height="58" fill="url(#barg)" stroke="#6a6ad8" stroke-width="1"/>
<text x="1995" y="1599" font-size="56.8" text-anchor="start" fill="#000">Leached ratio</text>
<line x1="1840" y1="1674" x2="1942" y2="1674" stroke="#0a7a0a" stroke-width="7"/>
<circle cx="1891.5" cy="1674" r="20" fill="#fff" stroke="#2e9a2e" stroke-width="6"/>
<path d="M1874.5,1674 h34" stroke="#cfe8cf" stroke-width="6"/>
<circle cx="1891.5" cy="1674" r="20" fill="none" stroke="#2e9a2e" stroke-width="6"/>
<text x="1961" y="1692" font-size="56" text-anchor="start" fill="#000">Ti concentration</text>
<polyline points="1483.4,1762.8 1500.3,1762.8 1517.2,1762.8 1534,1761.5 1554.3,1761.5 1686,1760.6 1888.5,1760.2 2091.1,1760.2 2293.6,1761.9" fill="none" stroke="#0a7a0a" stroke-width="7" stroke-linejoin="round"/>
<circle cx="1483.4" cy="1761.8" r="20" fill="#fff" stroke="#2e9a2e" stroke-width="6"/>
<path d="M1466.4,1761.8 h34 M1483.4,1744.8 v34" stroke="#cfe8cf" stroke-width="5"/>
<circle cx="1483.4" cy="1761.8" r="20" fill="none" stroke="#2e9a2e" stroke-width="6"/>
<circle cx="1500.3" cy="1761.8" r="20" fill="#fff" stroke="#2e9a2e" stroke-width="6"/>
<path d="M1483.3,1761.8 h34 M1500.3,1744.8 v34" stroke="#cfe8cf" stroke-width="5"/>
<circle cx="1500.3" cy="1761.8" r="20" fill="none" stroke="#2e9a2e" stroke-width="6"/>
<circle cx="1517.2" cy="1761.8" r="20" fill="#fff" stroke="#2e9a2e" stroke-width="6"/>
<path d="M1500.2,1761.8 h34 M1517.2,1744.8 v34" stroke="#cfe8cf" stroke-width="5"/>
<circle cx="1517.2" cy="1761.8" r="20" fill="none" stroke="#2e9a2e" stroke-width="6"/>
<circle cx="1534" cy="1760.5" r="20" fill="#fff" stroke="#2e9a2e" stroke-width="6"/>
<path d="M1517,1760.5 h34 M1534,1743.5 v34" stroke="#cfe8cf" stroke-width="5"/>
<circle cx="1534" cy="1760.5" r="20" fill="none" stroke="#2e9a2e" stroke-width="6"/>
<circle cx="1554.3" cy="1760.5" r="20" fill="#fff" stroke="#2e9a2e" stroke-width="6"/>
<path d="M1537.3,1760.5 h34 M1554.3,1743.5 v34" stroke="#cfe8cf" stroke-width="5"/>
<circle cx="1554.3" cy="1760.5" r="20" fill="none" stroke="#2e9a2e" stroke-width="6"/>
<circle cx="1686" cy="1759.6" r="20" fill="#fff" stroke="#2e9a2e" stroke-width="6"/>
<path d="M1669,1759.6 h34 M1686,1742.6 v34" stroke="#cfe8cf" stroke-width="5"/>
<circle cx="1686" cy="1759.6" r="20" fill="none" stroke="#2e9a2e" stroke-width="6"/>
<circle cx="1888.5" cy="1759.2" r="20" fill="#fff" stroke="#2e9a2e" stroke-width="6"/>
<path d="M1871.5,1759.2 h34 M1888.5,1742.2 v34" stroke="#cfe8cf" stroke-width="5"/>
<circle cx="1888.5" cy="1759.2" r="20" fill="none" stroke="#2e9a2e" stroke-width="6"/>
<circle cx="2091.1" cy="1759.2" r="20" fill="#fff" stroke="#2e9a2e" stroke-width="6"/>
<path d="M2074.1,1759.2 h34 M2091.1,1742.2 v34" stroke="#cfe8cf" stroke-width="5"/>
<circle cx="2091.1" cy="1759.2" r="20" fill="none" stroke="#2e9a2e" stroke-width="6"/>
<circle cx="2293.6" cy="1760.9" r="20" fill="#fff" stroke="#2e9a2e" stroke-width="6"/>
<path d="M2276.6,1760.9 h34 M2293.6,1743.9 v34" stroke="#cfe8cf" stroke-width="5"/>
<circle cx="2293.6" cy="1760.9" r="20" fill="none" stroke="#2e9a2e" stroke-width="6"/>
<line x1="1448" y1="1716.6" x2="1578" y2="1716.6" stroke="#008000" stroke-width="4.5"/>
<polygon points="1417,1716.6 1451,1700 1451,1733" fill="#008000"/>
<line x1="2218" y1="1789.4" x2="2372" y2="1789.4" stroke="#1e9ff0" stroke-width="4.5"/>
<polygon points="2402,1789.4 2368,1773 2368,1806" fill="#1e9ff0"/>
<rect x="2818.3" y="1058.6" width="1015" height="760" fill="none" stroke="#000" stroke-width="4"/>
<line x1="2890.7" y1="1818.6" x2="2890.7" y2="1806.6" stroke="#000" stroke-width="3.5"/>
<line x1="3180.4" y1="1818.6" x2="3180.4" y2="1806.6" stroke="#000" stroke-width="3.5"/>
<line x1="3470.1" y1="1818.6" x2="3470.1" y2="1806.6" stroke="#000" stroke-width="3.5"/>
<line x1="3759.8" y1="1818.6" x2="3759.8" y2="1806.6" stroke="#000" stroke-width="3.5"/>
<line x1="3035.5" y1="1818.6" x2="3035.5" y2="1812.6" stroke="#000" stroke-width="3.5"/>
<line x1="3325.2" y1="1818.6" x2="3325.2" y2="1812.6" stroke="#000" stroke-width="3.5"/>
<line x1="3614.9" y1="1818.6" x2="3614.9" y2="1812.6" stroke="#000" stroke-width="3.5"/>
<line x1="2818.3" y1="1773.5" x2="2830.3" y2="1773.5" stroke="#000" stroke-width="3.5"/>
<line x1="2818.3" y1="1639.3" x2="2830.3" y2="1639.3" stroke="#000" stroke-width="3.5"/>
<line x1="2818.3" y1="1505.1" x2="2830.3" y2="1505.1" stroke="#000" stroke-width="3.5"/>
<line x1="2818.3" y1="1370.9" x2="2830.3" y2="1370.9" stroke="#000" stroke-width="3.5"/>
<line x1="2818.3" y1="1236.7" x2="2830.3" y2="1236.7" stroke="#000" stroke-width="3.5"/>
<line x1="2818.3" y1="1102.6" x2="2830.3" y2="1102.6" stroke="#000" stroke-width="3.5"/>
<line x1="2818.3" y1="1706.4" x2="2824.3" y2="1706.4" stroke="#000" stroke-width="3.5"/>
<line x1="2818.3" y1="1572.2" x2="2824.3" y2="1572.2" stroke="#000" stroke-width="3.5"/>
<line x1="2818.3" y1="1438" x2="2824.3" y2="1438" stroke="#000" stroke-width="3.5"/>
<line x1="2818.3" y1="1303.8" x2="2824.3" y2="1303.8" stroke="#000" stroke-width="3.5"/>
<line x1="2818.3" y1="1169.6" x2="2824.3" y2="1169.6" stroke="#000" stroke-width="3.5"/>
<text x="2890.7" y="1878" font-size="55" text-anchor="middle" fill="#000">0</text>
<text x="3180.4" y="1878" font-size="55" text-anchor="middle" fill="#000">10</text>
<text x="3470.1" y="1878" font-size="55" text-anchor="middle" fill="#000">20</text>
<text x="3759.8" y="1878" font-size="55" text-anchor="middle" fill="#000">30</text>
<text x="2800" y="1792.5" font-size="55" text-anchor="end" fill="#000">0</text>
<text x="2800" y="1658.3" font-size="55" text-anchor="end" fill="#000">30</text>
<text x="2800" y="1524.1" font-size="55" text-anchor="end" fill="#000">60</text>
<text x="2800" y="1389.9" font-size="55" text-anchor="end" fill="#000">90</text>
<text x="2800" y="1255.7" font-size="55" text-anchor="end" fill="#000">120</text>
<text x="2800" y="1121.6" font-size="55" text-anchor="end" fill="#000">150</text>
<text x="3326" y="1936" font-size="56" text-anchor="middle" fill="#000">Time (s)</text>
<text x="0" y="0" font-size="56" text-anchor="middle" fill="#000" transform="translate(2688,1438) rotate(-90)">Contact angle (°)</text>
<text x="2853" y="1132.5" font-size="77.5" text-anchor="start" fill="#000" font-weight="bold">F</text>
<polygon points="2891.3,1531 2907.3,1558 2875.3,1558" fill="#e6eafd" stroke="#4a62f0" stroke-width="4" stroke-linejoin="miter"/>
<polygon points="2892.6,1576.1 2908.6,1603.1 2876.6,1603.1" fill="#e6eafd" stroke="#4a62f0" stroke-width="4" stroke-linejoin="miter"/>
<polygon points="2893.8,1585.4 2909.8,1612.4 2877.8,1612.4" fill="#e6eafd" stroke="#4a62f0" stroke-width="4" stroke-linejoin="miter"/>
<polygon points="2895,1594.7 2911,1621.7 2879,1621.7" fill="#e6eafd" stroke="#4a62f0" stroke-width="4" stroke-linejoin="miter"/>
<polygon points="2896.9,1630 2912.9,1657 2880.9,1657" fill="#e6eafd" stroke="#4a62f0" stroke-width="4" stroke-linejoin="miter"/>
<polygon points="2898.7,1638 2914.7,1665 2882.7,1665" fill="#e6eafd" stroke="#4a62f0" stroke-width="4" stroke-linejoin="miter"/>
<polygon points="2901.8,1646.1 2917.8,1673.1 2885.8,1673.1" fill="#e6eafd" stroke="#4a62f0" stroke-width="4" stroke-linejoin="miter"/>
<polygon points="2906.2,1678.3 2922.2,1705.3 2890.2,1705.3" fill="#e6eafd" stroke="#4a62f0" stroke-width="4" stroke-linejoin="miter"/>
<polygon points="2908.7,1695.6 2924.7,1722.6 2892.7,1722.6" fill="#e6eafd" stroke="#4a62f0" stroke-width="4" stroke-linejoin="miter"/>
<polygon points="2911.7,1712.3 2927.7,1739.3 2895.7,1739.3" fill="#e6eafd" stroke="#4a62f0" stroke-width="4" stroke-linejoin="miter"/>
<polygon points="2927.8,1760.6 2943.8,1787.6 2911.8,1787.6" fill="#e6eafd" stroke="#4a62f0" stroke-width="4" stroke-linejoin="miter"/>
<polyline points="2891.3,1544.5 2892.6,1589.6 2893.8,1598.9 2895,1608.2 2896.9,1643.5 2898.7,1651.5 2901.8,1659.6 2906.2,1691.8 2908.7,1709.1 2911.7,1725.8 2927.8,1774.1" fill="none" stroke="#4a62f0" stroke-width="5" stroke-linejoin="round"/>
<circle cx="2906.2" cy="1397.8" r="15" fill="#fbdede" stroke="#f06262" stroke-width="4"/>
<circle cx="2909.9" cy="1442.3" r="15" fill="#fbdede" stroke="#f06262" stroke-width="4"/>
<circle cx="2914.2" cy="1493.7" r="15" fill="#fbdede" stroke="#f06262" stroke-width="4"/>
<circle cx="2919.2" cy="1533.9" r="15" fill="#fbdede" stroke="#f06262" stroke-width="4"/>
<circle cx="2923.5" cy="1574.2" r="15" fill="#fbdede" stroke="#f06262" stroke-width="4"/>
<circle cx="2927.8" cy="1644.1" r="15" fill="#fbdede" stroke="#f06262" stroke-width="4"/>
<circle cx="2932.8" cy="1709.1" r="15" fill="#fbdede" stroke="#f06262" stroke-width="4"/>
<circle cx="2937.1" cy="1774.1" r="15" fill="#fbdede" stroke="#f06262" stroke-width="4"/>
<polyline points="2906.2,1397.8 2909.9,1442.3 2914.2,1493.7 2919.2,1533.9 2923.5,1574.2 2927.8,1644.1 2932.8,1709.1 2937.1,1774.1" fill="none" stroke="#f06262" stroke-width="5" stroke-linejoin="round"/>
<rect x="2890.1" y="1135.3" width="26" height="26" fill="#c2e2e2" stroke="#008080" stroke-width="4.5"/>
<rect x="2904.3" y="1142.2" width="26" height="26" fill="#c2e2e2" stroke="#008080" stroke-width="4.5"/>
<rect x="2922.9" y="1141.5" width="26" height="26" fill="#c2e2e2" stroke="#008080" stroke-width="4.5"/>
<rect x="2936.5" y="1150.2" width="26" height="26" fill="#c2e2e2" stroke="#008080" stroke-width="4.5"/>
<rect x="2994.1" y="1154.5" width="26" height="26" fill="#c2e2e2" stroke="#008080" stroke-width="4.5"/>
<rect x="3109.8" y="1161.3" width="26" height="26" fill="#c2e2e2" stroke="#008080" stroke-width="4.5"/>
<rect x="3224.9" y="1163.2" width="26" height="26" fill="#c2e2e2" stroke="#008080" stroke-width="4.5"/>
<rect x="3340.7" y="1168.2" width="26" height="26" fill="#c2e2e2" stroke="#008080" stroke-width="4.5"/>
<rect x="3456.4" y="1146.5" width="26" height="26" fill="#c2e2e2" stroke="#008080" stroke-width="4.5"/>
<rect x="3572.1" y="1160.1" width="26" height="26" fill="#c2e2e2" stroke="#008080" stroke-width="4.5"/>
<rect x="3688.5" y="1166.3" width="26" height="26" fill="#c2e2e2" stroke="#008080" stroke-width="4.5"/>
<polyline points="2903.1,1148.3 2917.3,1155.2 2935.9,1154.5 2949.5,1163.2 3007.1,1167.5 3122.8,1174.3 3237.9,1176.2 3353.7,1181.2 3469.4,1159.5 3585.1,1173.1 3701.5,1179.3" fill="none" stroke="#008080" stroke-width="5" stroke-linejoin="round"/>
<line x1="3283" y1="1513.5" x2="3409" y2="1513.5" stroke="#008080" stroke-width="5.5"/>
<rect x="3333" y="1500.5" width="26" height="26" fill="#b0dcdc" stroke="#008080" stroke-width="4.5"/>
<line x1="3283" y1="1589.6" x2="3409" y2="1589.6" stroke="#f06262" stroke-width="5.5"/>
<circle cx="3346" cy="1589.6" r="14.5" fill="#f8c8c8" stroke="#f06262" stroke-width="4.5"/>
<line x1="3283" y1="1679.4" x2="3409" y2="1679.4" stroke="#4a62f0" stroke-width="5.5"/>
<polygon points="3346,1659 3363,1687 3329,1687" fill="#fff" stroke="#4a62f0" stroke-width="4" stroke-linejoin="miter"/>
<text x="3427" y="1533" font-size="56" text-anchor="start" fill="#000">CCC</text>
<text x="3427" y="1609.5" font-size="56" text-anchor="start" fill="#000">TiO<tspan dy="12" font-size="40" font-style="italic">x</tspan><tspan dy="-12">C</tspan><tspan dy="12" font-size="40" font-style="italic">y</tspan><tspan dy="-12">@CN</tspan></text>
<text x="3427" y="1698" font-size="56" text-anchor="start" fill="#000">CN</text>
<defs>
<linearGradient id="gbg" x1="0" y1="0" x2="1" y2="0">
 <stop offset="0" stop-color="#e6e6ea"/><stop offset="0.04" stop-color="#f1f1f4"/><stop offset="0.5" stop-color="#f3f3f5"/><stop offset="0.95" stop-color="#ebebee"/><stop offset="0.975" stop-color="#d4d4d9"/><stop offset="1" stop-color="#c4c4ca"/>
</linearGradient>
<linearGradient id="gfilm" x1="0" y1="0" x2="1" y2="0">
 <stop offset="0" stop-color="#7c7f84"/><stop offset="0.25" stop-color="#84878c"/><stop offset="0.5" stop-color="#898a8f"/><stop offset="0.8" stop-color="#868786"/><stop offset="1" stop-color="#828382"/>
</linearGradient>
<linearGradient id="gfilmv" x1="0" y1="0" x2="0" y2="1">
 <stop offset="0" stop-color="#fff" stop-opacity="0.03"/><stop offset="0.5" stop-color="#fff" stop-opacity="0"/><stop offset="1" stop-color="#000" stop-opacity="0.05"/>
</linearGradient>
<linearGradient id="hbg" x1="0" y1="0" x2="1" y2="0">
 <stop offset="0" stop-color="#989898"/><stop offset="0.05" stop-color="#c0c0c0"/><stop offset="0.5" stop-color="#d2d2d2"/><stop offset="0.9" stop-color="#d6d6d6"/><stop offset="1" stop-color="#dedede"/>
</linearGradient>
<linearGradient id="hbot" x1="0" y1="0" x2="0" y2="1">
 <stop offset="0" stop-color="#dcdcdc" stop-opacity="0"/><stop offset="0.5" stop-color="#dedede" stop-opacity="0.7"/><stop offset="1" stop-color="#e2e2e2" stop-opacity="0.8"/>
</linearGradient>
<radialGradient id="hsq" cx="0.55" cy="0.55" r="0.7">
 <stop offset="0" stop-color="#221f20"/><stop offset="1" stop-color="#1a191a"/>
</radialGradient>
<linearGradient id="ibg" x1="0" y1="0" x2="0" y2="1">
 <stop offset="0" stop-color="#dedbd5"/><stop offset="0.6" stop-color="#d7d5d1"/><stop offset="1" stop-color="#d2d2d2"/>
</linearGradient>
<linearGradient id="ibot" x1="0" y1="0" x2="0" y2="1">
 <stop offset="0" stop-color="#c9ccd3"/><stop offset="1" stop-color="#a3a8b4"/>
</linearGradient>
<radialGradient id="ibot2" cx="0.5" cy="0.5" r="0.5">
 <stop offset="0" stop-color="#a4a9b5"/><stop offset="0.6" stop-color="#b8bcc6" stop-opacity="0.9"/><stop offset="1" stop-color="#d0d1d4" stop-opacity="0"/>
</radialGradient>
<filter id="blur12" x="-50%" y="-50%" width="200%" height="200%"><feGaussianBlur stdDeviation="12"/></filter>
<clipPath id="clipG"><rect x="29" y="1977" width="1900" height="764"/></clipPath>
<radialGradient id="glove" cx="0.35" cy="0.5" r="0.7">
 <stop offset="0" stop-color="#e9e1de"/><stop offset="1" stop-color="#ddd6d3"/>
</radialGradient>
</defs>
<rect x="29" y="1977" width="1900" height="764" fill="url(#gbg)"/>
<g clip-path="url(#clipG)" filter="url(#blur12)"><path d="M1880,1977 L1929,1977 L1929,2330 Q1900,2250 1905,2150 Q1890,2060 1880,1977 Z" fill="#9c9ca4" opacity="0.55"/><path d="M1870,2380 Q1900,2450 1929,2470 L1929,2560 Q1890,2520 1870,2450 Z" fill="#a8a8b0" opacity="0.4"/><path d="M29,2440 Q60,2500 50,2600 Q70,2680 29,2741 Z" fill="#b0b0b6" opacity="0.45"/><path d="M29,1977 L120,1977 Q80,2020 29,2060 Z" fill="#c4c4c9" opacity="0.5"/><path d="M1000,2722 Q1300,2712 1700,2728 L1700,2741 L1000,2741 Z" fill="#bcbcc2" opacity="0.5"/></g>
<polygon points="190.4,2034.9 277.3,2038.2 384.8,2043.2 459.3,2051.5 773.8,2063.9 1022,2072.2 1353.1,2080.4 1684.1,2084.6 1857.9,2084.6 1853.7,2126 1849.6,2192.2 1864.5,2202.1 1853.7,2225.3 1853.7,2291.5 1845.5,2349.4 1841.3,2432.1 1837.2,2490.1 1824.8,2548 1808.2,2589.4 1799.9,2614.2 1766.8,2639 1700.6,2657.2 1435.8,2652.3 1022,2660.5 691,2664.7 360,2668.8 194.5,2677.1 144.9,2693.7 103.5,2706.9 78.7,2721.8 49.7,2740.8 29,2740.8 29,2721.8 70.4,2697 86.9,2663.9 74.5,2639 82.8,2572.8 78.7,2506.6 91.1,2473.5 82.8,2457 111.8,2440.4 95.2,2407.3 120,2374.2 101.8,2353.5 128.3,2349.4 136.6,2308 136.6,2266.6 153.1,2225.3 161.4,2142.5 173.8,2084.6" fill="url(#gfilm)" stroke="#6e7075" stroke-width="2"/>
<polygon points="190.4,2034.9 277.3,2038.2 384.8,2043.2 459.3,2051.5 773.8,2063.9 1022,2072.2 1353.1,2080.4 1684.1,2084.6 1857.9,2084.6 1853.7,2126 1849.6,2192.2 1864.5,2202.1 1853.7,2225.3 1853.7,2291.5 1845.5,2349.4 1841.3,2432.1 1837.2,2490.1 1824.8,2548 1808.2,2589.4 1799.9,2614.2 1766.8,2639 1700.6,2657.2 1435.8,2652.3 1022,2660.5 691,2664.7 360,2668.8 194.5,2677.1 144.9,2693.7 103.5,2706.9 78.7,2721.8 49.7,2740.8 29,2740.8 29,2721.8 70.4,2697 86.9,2663.9 74.5,2639 82.8,2572.8 78.7,2506.6 91.1,2473.5 82.8,2457 111.8,2440.4 95.2,2407.3 120,2374.2 101.8,2353.5 128.3,2349.4 136.6,2308 136.6,2266.6 153.1,2225.3 161.4,2142.5 173.8,2084.6" fill="url(#gfilmv)"/>
<line x1="161.4" y1="2196.3" x2="1833" y2="2199.3" stroke="#6a6c70" stroke-width="2" opacity="0.1"/>
<line x1="161.4" y1="2341.1" x2="1833" y2="2344.1" stroke="#6a6c70" stroke-width="2" opacity="0.1"/>
<line x1="161.4" y1="2490.1" x2="1833" y2="2493.1" stroke="#6a6c70" stroke-width="2" opacity="0.08"/>
<line x1="161.4" y1="2556.3" x2="1833" y2="2559.3" stroke="#6a6c70" stroke-width="2" opacity="0.12"/>
<line x1="150" y1="2283" x2="1853" y2="2283" stroke="#000" stroke-width="9" stroke-linecap="round" stroke-linejoin="round" fill="none"/>
<polyline points="212,2252 150,2283 212,2314" stroke="#000" stroke-width="9" stroke-linecap="round" stroke-linejoin="round" fill="none"/>
<polyline points="1791,2252 1853,2283 1791,2314" stroke="#000" stroke-width="9" stroke-linecap="round" stroke-linejoin="round" fill="none"/>
<line x1="826.4" y1="2084" x2="826.4" y2="2658" stroke="#000" stroke-width="9" stroke-linecap="round" stroke-linejoin="round" fill="none"/>
<polyline points="795.9,2148 826.4,2084 857,2148" stroke="#000" stroke-width="9" stroke-linecap="round" stroke-linejoin="round" fill="none"/>
<polyline points="795.9,2594 826.4,2658 857,2594" stroke="#000" stroke-width="9" stroke-linecap="round" stroke-linejoin="round" fill="none"/>
<text x="1036" y="2241" font-size="84" text-anchor="start" fill="#000">30 cm</text>
<text x="846" y="2428" font-size="84" text-anchor="start" fill="#000">10 cm</text>
<text x="87" y="2083.5" font-size="79" text-anchor="start" fill="#000" font-weight="bold">G</text>
<rect x="2159" y="1977" width="763" height="764" fill="url(#hbg)"/>
<rect x="2159" y="2640" width="763" height="101" fill="url(#hbot)"/>
<path d="M2840,1977 L2922,1977 L2922,2090 Q2890,2040 2840,1977 Z" fill="#ececec" opacity="0.8"/>
<polygon points="2222,2013 2851,2017 2862,2024 2864,2095 2872,2300 2877,2694 2600,2690 2467,2686 2300,2674 2191,2662 2192,2400 2198,2200 2205,2068 2222,2062" fill="url(#hsq)"/>
<line x1="2210" y1="2066" x2="2866" y2="2096" stroke="#111" stroke-width="3" opacity="0.5"/>
<line x1="2783" y1="2100" x2="2790" y2="2680" stroke="#3a3a3a" stroke-width="4" opacity="0.5"/>
<line x1="2467.4" y1="2029" x2="2467.4" y2="2678" stroke="#fff" stroke-width="10" stroke-linecap="round" stroke-linejoin="round" fill="none"/>
<polyline points="2437,2093 2467.4,2029 2498,2093" stroke="#fff" stroke-width="10" stroke-linecap="round" stroke-linejoin="round" fill="none"/>
<polyline points="2437,2614 2467.4,2678 2498,2614" stroke="#fff" stroke-width="10" stroke-linecap="round" stroke-linejoin="round" fill="none"/>
<text x="2236" y="2080.8" font-size="77.5" text-anchor="start" fill="#fff" font-weight="bold">H</text>
<text x="2505" y="2428" font-size="84" text-anchor="start" fill="#fff">9.5 cm</text>
<text x="2712.5" y="2678" font-size="122" text-anchor="start" fill="#fff"><tspan font-weight="bold">×</tspan>3</text>
<rect x="3070" y="1977" width="765" height="764" fill="url(#ibg)"/>
<ellipse cx="3450" cy="2760" rx="330" ry="150" fill="url(#ibot2)"/>
<ellipse cx="3462" cy="2358.5" rx="303" ry="304.5" fill="#5a5651"/>
<polygon points="3070,2421 3149,2420 3183,2427 3216,2438 3250,2458 3279,2485 3301,2510 3317,2536 3325,2565 3324,2592 3317,2626 3301,2659 3283,2688 3272,2715 3268,2741 3070,2741" fill="url(#glove)" stroke="#cbc3bf" stroke-width="2"/>
<line x1="3460" y1="2056" x2="3460" y2="2661" stroke="#fff" stroke-width="10" stroke-linecap="round" stroke-linejoin="round" fill="none"/>
<polyline points="3429,2120 3460,2056 3491,2120" stroke="#fff" stroke-width="10" stroke-linecap="round" stroke-linejoin="round" fill="none"/>
<polyline points="3429,2597 3460,2661 3491,2597" stroke="#fff" stroke-width="10" stroke-linecap="round" stroke-linejoin="round" fill="none"/>
<text x="3120" y="2082" font-size="78" text-anchor="start" fill="#000" font-weight="bold">I</text>
<text x="3496" y="2429" font-size="85" text-anchor="start" fill="#fff">4 cm</text>
<text x="3610.3" y="2711.5" font-size="123" text-anchor="start" fill="#000"><tspan font-weight="bold">×</tspan>12</text>
<text x="1899" y="2212" font-size="85" text-anchor="start" fill="#0070c0">Cut 1/3</text>
<text x="1938" y="2510" font-size="85" text-anchor="start" fill="#0070c0">Heat</text>
<text x="1826" y="2613" font-size="85" text-anchor="start" fill="#0070c0">treatment</text>
<text x="2934" y="2212" font-size="85" text-anchor="start" fill="#0070c0">Cut</text>
<polygon points="1945,2291 2043,2291 2043,2240 2141,2338.5 2043,2437 2043,2386 1945,2386" fill="#bdd7ee" stroke="#7030a0" stroke-width="9" stroke-linejoin="miter"/>
<polygon points="2914,2315 3009,2315 3009,2264 3107,2362.5 3009,2461 3009,2410 2914,2410" fill="#bdd7ee" stroke="#7030a0" stroke-width="9" stroke-linejoin="miter"/>
</svg></body></html>
